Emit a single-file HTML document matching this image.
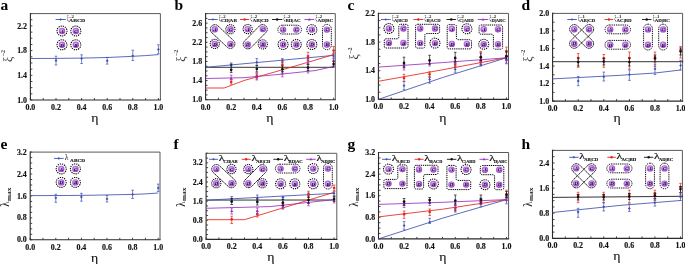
<!DOCTYPE html>
<html><head><meta charset="utf-8"><title>figure</title><style>html,body{margin:0;padding:0;background:#fff;width:685px;height:264px;overflow:hidden;font-family:"Liberation Serif",serif}svg{display:block;will-change:transform}</style></head><body>
<svg width="685" height="264" viewBox="0 0 685 264">
<defs><radialGradient id="pg" cx="0.45" cy="0.42" r="0.6"><stop offset="0" stop-color="#f2e0fa"/><stop offset="0.45" stop-color="#bc7ce4"/><stop offset="1" stop-color="#9436c6"/></radialGradient></defs>
<rect width="685" height="264" fill="#fff"/>
<g>
<path d="M30.4 100v-2M43.2 100v-2M56 100v-2M68.8 100v-2M81.6 100v-2M94.4 100v-2M107.2 100v-2M120 100v-2M132.8 100v-2M145.6 100v-2M158.4 100v-2M30.4 100h2M30.4 93.83h2M30.4 87.66h2M30.4 81.49h2M30.4 75.31h2M30.4 69.14h2M30.4 62.97h2M30.4 56.8h2M30.4 50.63h2M30.4 44.46h2M30.4 38.29h2M30.4 32.11h2M30.4 25.94h2M30.4 19.77h2M30.4 13.6h2" stroke="#333" stroke-width="0.9" fill="none"/>
<path d="M30.4 13.6H160.4V100" fill="none" stroke="#5a5a5a" stroke-width="1.0"/>
<path d="M30.4 13.6V100H160.4" fill="none" stroke="#2a2a2a" stroke-width="1.1" stroke-linecap="square"/>
<g font-family="'Liberation Serif', serif" font-weight="bold" font-size="7.9" text-anchor="middle" fill="#111" stroke="#111" stroke-width="0.15"><text x="30.4" y="110">0.0</text><text x="56" y="110">0.2</text><text x="81.6" y="110">0.4</text><text x="107.2" y="110">0.6</text><text x="132.8" y="110">0.8</text><text x="158.4" y="110">1.0</text></g>
<g font-family="'Liberation Serif', serif" font-weight="bold" font-size="7.9" text-anchor="end" fill="#111" stroke="#111" stroke-width="0.15"><text x="27" y="102.6">1.0</text><text x="27" y="77.91">1.4</text><text x="27" y="53.23">1.8</text><text x="27" y="28.54">2.2</text></g>
<text transform="translate(94.8 121.8) scale(1.15 1)" font-family="'Liberation Serif', serif" font-size="12" text-anchor="middle" fill="#111" stroke="#111" stroke-width="0.12">&#951;</text>
<text x="0.6" y="9.8" font-family="'Liberation Serif', serif" font-weight="bold" font-size="15.5" fill="#000">a</text>
<g transform="translate(11.7 62) rotate(-90)" font-family="'Liberation Serif', serif" fill="#3a3a3a"><text x="0" y="0" font-size="12">&#958;</text><text x="5.9" y="-6.8" font-size="6" font-weight="bold">&#8211;2</text></g>
<path d="M205.6 99.7v-2M218.4 99.7v-2M231.2 99.7v-2M244 99.7v-2M256.8 99.7v-2M269.6 99.7v-2M282.4 99.7v-2M295.2 99.7v-2M308 99.7v-2M320.8 99.7v-2M333.6 99.7v-2M205.6 99.7h2M205.6 94.92h2M205.6 90.13h2M205.6 85.35h2M205.6 80.57h2M205.6 75.78h2M205.6 71h2M205.6 66.22h2M205.6 61.43h2M205.6 56.65h2M205.6 51.87h2M205.6 47.08h2M205.6 42.3h2M205.6 37.52h2M205.6 32.73h2M205.6 27.95h2M205.6 23.17h2M205.6 18.38h2M205.6 13.6h2" stroke="#333" stroke-width="0.9" fill="none"/>
<path d="M205.6 13.6H335.3V99.7" fill="none" stroke="#5a5a5a" stroke-width="1.0"/>
<path d="M205.6 13.6V99.7H335.3" fill="none" stroke="#2a2a2a" stroke-width="1.1" stroke-linecap="square"/>
<g font-family="'Liberation Serif', serif" font-weight="bold" font-size="7.9" text-anchor="middle" fill="#111" stroke="#111" stroke-width="0.15"><text x="205.6" y="109.7">0.0</text><text x="231.2" y="109.7">0.2</text><text x="256.8" y="109.7">0.4</text><text x="282.4" y="109.7">0.6</text><text x="308" y="109.7">0.8</text><text x="333.6" y="109.7">1.0</text></g>
<g font-family="'Liberation Serif', serif" font-weight="bold" font-size="7.9" text-anchor="end" fill="#111" stroke="#111" stroke-width="0.15"><text x="202.2" y="102.3">1.0</text><text x="202.2" y="83.17">1.4</text><text x="202.2" y="64.03">1.8</text><text x="202.2" y="44.9">2.2</text><text x="202.2" y="25.77">2.6</text></g>
<text transform="translate(269.85 121.5) scale(1.15 1)" font-family="'Liberation Serif', serif" font-size="12" text-anchor="middle" fill="#111" stroke="#111" stroke-width="0.12">&#951;</text>
<text x="174.6" y="9.8" font-family="'Liberation Serif', serif" font-weight="bold" font-size="15.5" fill="#000">b</text>
<g transform="translate(185.1 61.7) rotate(-90)" font-family="'Liberation Serif', serif" fill="#3a3a3a"><text x="0" y="0" font-size="12">&#958;</text><text x="5.9" y="-6.8" font-size="6" font-weight="bold">&#8211;2</text></g>
<path d="M378.4 99.4v-2M391.2 99.4v-2M404 99.4v-2M416.8 99.4v-2M429.6 99.4v-2M442.4 99.4v-2M455.2 99.4v-2M468 99.4v-2M480.8 99.4v-2M493.6 99.4v-2M506.4 99.4v-2M378.4 99.4h2M378.4 92.23h2M378.4 85.07h2M378.4 77.9h2M378.4 70.73h2M378.4 63.57h2M378.4 56.4h2M378.4 49.23h2M378.4 42.07h2M378.4 34.9h2M378.4 27.73h2M378.4 20.57h2M378.4 13.4h2" stroke="#333" stroke-width="0.9" fill="none"/>
<path d="M378.4 13.4H508.5V99.4" fill="none" stroke="#5a5a5a" stroke-width="1.0"/>
<path d="M378.4 13.4V99.4H508.5" fill="none" stroke="#2a2a2a" stroke-width="1.1" stroke-linecap="square"/>
<g font-family="'Liberation Serif', serif" font-weight="bold" font-size="7.9" text-anchor="middle" fill="#111" stroke="#111" stroke-width="0.15"><text x="378.4" y="109.4">0.0</text><text x="404" y="109.4">0.2</text><text x="429.6" y="109.4">0.4</text><text x="455.2" y="109.4">0.6</text><text x="480.8" y="109.4">0.8</text><text x="506.4" y="109.4">1.0</text></g>
<g font-family="'Liberation Serif', serif" font-weight="bold" font-size="7.9" text-anchor="end" fill="#111" stroke="#111" stroke-width="0.15"><text x="375" y="102">1.0</text><text x="375" y="73.33">1.4</text><text x="375" y="44.67">1.8</text><text x="375" y="16">2.2</text></g>
<text transform="translate(442.85 121.8) scale(1.15 1)" font-family="'Liberation Serif', serif" font-size="12" text-anchor="middle" fill="#111" stroke="#111" stroke-width="0.12">&#951;</text>
<text x="347.6" y="9.8" font-family="'Liberation Serif', serif" font-weight="bold" font-size="15.5" fill="#000">c</text>
<g transform="translate(358.4 59.4) rotate(-90)" font-family="'Liberation Serif', serif" fill="#3a3a3a"><text x="0" y="0" font-size="12">&#958;</text><text x="5.9" y="-6.8" font-size="6" font-weight="bold">&#8211;2</text></g>
<path d="M552.6 101.1v-2M565.4 101.1v-2M578.2 101.1v-2M591 101.1v-2M603.8 101.1v-2M616.6 101.1v-2M629.4 101.1v-2M642.2 101.1v-2M655 101.1v-2M667.8 101.1v-2M680.6 101.1v-2M552.6 101.1h2M552.6 92.33h2M552.6 83.56h2M552.6 74.79h2M552.6 66.02h2M552.6 57.25h2M552.6 48.48h2M552.6 39.71h2M552.6 30.94h2M552.6 22.17h2M552.6 13.4h2" stroke="#333" stroke-width="0.9" fill="none"/>
<path d="M552.6 13.4H682.6V101.1" fill="none" stroke="#5a5a5a" stroke-width="1.0"/>
<path d="M552.6 13.4V101.1H682.6" fill="none" stroke="#2a2a2a" stroke-width="1.1" stroke-linecap="square"/>
<g font-family="'Liberation Serif', serif" font-weight="bold" font-size="7.9" text-anchor="middle" fill="#111" stroke="#111" stroke-width="0.15"><text x="552.6" y="111.1">0.0</text><text x="578.2" y="111.1">0.2</text><text x="603.8" y="111.1">0.4</text><text x="629.4" y="111.1">0.6</text><text x="655" y="111.1">0.8</text><text x="680.6" y="111.1">1.0</text></g>
<g font-family="'Liberation Serif', serif" font-weight="bold" font-size="7.9" text-anchor="end" fill="#111" stroke="#111" stroke-width="0.15"><text x="549.2" y="103.7">1.0</text><text x="549.2" y="86.16">1.2</text><text x="549.2" y="68.62">1.4</text><text x="549.2" y="51.08">1.6</text><text x="549.2" y="33.54">1.8</text><text x="549.2" y="16">2.0</text></g>
<text transform="translate(617 122) scale(1.15 1)" font-family="'Liberation Serif', serif" font-size="12" text-anchor="middle" fill="#111" stroke="#111" stroke-width="0.12">&#951;</text>
<text x="521.6" y="9.8" font-family="'Liberation Serif', serif" font-weight="bold" font-size="15.5" fill="#000">d</text>
<g transform="translate(532.1 61.7) rotate(-90)" font-family="'Liberation Serif', serif" fill="#3a3a3a"><text x="0" y="0" font-size="12">&#958;</text><text x="5.9" y="-6.8" font-size="6" font-weight="bold">&#8211;2</text></g>
<path d="M30.2 239.8v-2M43 239.8v-2M55.8 239.8v-2M68.6 239.8v-2M81.4 239.8v-2M94.2 239.8v-2M107 239.8v-2M119.8 239.8v-2M132.6 239.8v-2M145.4 239.8v-2M158.2 239.8v-2M30.2 239.8h2M30.2 234.32h2M30.2 228.84h2M30.2 223.36h2M30.2 217.88h2M30.2 212.39h2M30.2 206.91h2M30.2 201.43h2M30.2 195.95h2M30.2 190.47h2M30.2 184.99h2M30.2 179.51h2M30.2 174.02h2M30.2 168.54h2M30.2 163.06h2M30.2 157.58h2M30.2 152.1h2" stroke="#333" stroke-width="0.9" fill="none"/>
<path d="M30.2 152.1H160V239.8" fill="none" stroke="#5a5a5a" stroke-width="1.0"/>
<path d="M30.2 152.1V239.8H160" fill="none" stroke="#2a2a2a" stroke-width="1.1" stroke-linecap="square"/>
<g font-family="'Liberation Serif', serif" font-weight="bold" font-size="7.9" text-anchor="middle" fill="#111" stroke="#111" stroke-width="0.15"><text x="30.2" y="249.8">0.0</text><text x="55.8" y="249.8">0.2</text><text x="81.4" y="249.8">0.4</text><text x="107" y="249.8">0.6</text><text x="132.6" y="249.8">0.8</text><text x="158.2" y="249.8">1.0</text></g>
<g font-family="'Liberation Serif', serif" font-weight="bold" font-size="7.9" text-anchor="end" fill="#111" stroke="#111" stroke-width="0.15"><text x="26.8" y="242.4">0.0</text><text x="26.8" y="220.47">0.8</text><text x="26.8" y="198.55">1.6</text><text x="26.8" y="176.62">2.4</text><text x="26.8" y="154.7">3.2</text></g>
<text transform="translate(94.5 261.6) scale(1.15 1)" font-family="'Liberation Serif', serif" font-size="12" text-anchor="middle" fill="#111" stroke="#111" stroke-width="0.12">&#951;</text>
<text x="0.6" y="148.8" font-family="'Liberation Serif', serif" font-weight="bold" font-size="15.5" fill="#000">e</text>
<g transform="translate(9.3 206.85) rotate(-90)" font-family="'Liberation Serif', serif" fill="#111"><text transform="scale(0.83 1)" x="0" y="0" font-size="13">&#955;</text><text x="5.9" y="1.2" font-size="6.8" font-weight="bold" textLength="13.4" lengthAdjust="spacingAndGlyphs">max</text></g>
<path d="M206.1 239.4v-2M218.9 239.4v-2M231.7 239.4v-2M244.5 239.4v-2M257.3 239.4v-2M270.1 239.4v-2M282.9 239.4v-2M295.7 239.4v-2M308.5 239.4v-2M321.3 239.4v-2M334.1 239.4v-2M206.1 239.4h2M206.1 234.62h2M206.1 229.83h2M206.1 225.05h2M206.1 220.27h2M206.1 215.48h2M206.1 210.7h2M206.1 205.92h2M206.1 201.13h2M206.1 196.35h2M206.1 191.57h2M206.1 186.78h2M206.1 182h2M206.1 177.22h2M206.1 172.43h2M206.1 167.65h2M206.1 162.87h2M206.1 158.08h2M206.1 153.3h2" stroke="#333" stroke-width="0.9" fill="none"/>
<path d="M206.1 153.3H336.8V239.4" fill="none" stroke="#5a5a5a" stroke-width="1.0"/>
<path d="M206.1 153.3V239.4H336.8" fill="none" stroke="#2a2a2a" stroke-width="1.1" stroke-linecap="square"/>
<g font-family="'Liberation Serif', serif" font-weight="bold" font-size="7.9" text-anchor="middle" fill="#111" stroke="#111" stroke-width="0.15"><text x="206.1" y="249.4">0.0</text><text x="231.7" y="249.4">0.2</text><text x="257.3" y="249.4">0.4</text><text x="282.9" y="249.4">0.6</text><text x="308.5" y="249.4">0.8</text><text x="334.1" y="249.4">1.0</text></g>
<g font-family="'Liberation Serif', serif" font-weight="bold" font-size="7.9" text-anchor="end" fill="#111" stroke="#111" stroke-width="0.15"><text x="202.7" y="242">0.0</text><text x="202.7" y="222.87">0.8</text><text x="202.7" y="203.73">1.6</text><text x="202.7" y="184.6">2.4</text><text x="202.7" y="165.47">3.2</text></g>
<text transform="translate(270.85 261.2) scale(1.15 1)" font-family="'Liberation Serif', serif" font-size="12" text-anchor="middle" fill="#111" stroke="#111" stroke-width="0.12">&#951;</text>
<text x="173.6" y="148.8" font-family="'Liberation Serif', serif" font-weight="bold" font-size="15.5" fill="#000">f</text>
<g transform="translate(185.2 206.85) rotate(-90)" font-family="'Liberation Serif', serif" fill="#111"><text transform="scale(0.83 1)" x="0" y="0" font-size="13">&#955;</text><text x="5.9" y="1.2" font-size="6.8" font-weight="bold" textLength="13.4" lengthAdjust="spacingAndGlyphs">max</text></g>
<path d="M378.5 238.9v-2M391.3 238.9v-2M404.1 238.9v-2M416.9 238.9v-2M429.7 238.9v-2M442.5 238.9v-2M455.3 238.9v-2M468.1 238.9v-2M480.9 238.9v-2M493.7 238.9v-2M506.5 238.9v-2M378.5 238.9h2M378.5 233.5h2M378.5 228.1h2M378.5 222.7h2M378.5 217.3h2M378.5 211.9h2M378.5 206.5h2M378.5 201.1h2M378.5 195.7h2M378.5 190.3h2M378.5 184.9h2M378.5 179.5h2M378.5 174.1h2M378.5 168.7h2M378.5 163.3h2M378.5 157.9h2M378.5 152.5h2" stroke="#333" stroke-width="0.9" fill="none"/>
<path d="M378.5 152.5H508.6V238.9" fill="none" stroke="#5a5a5a" stroke-width="1.0"/>
<path d="M378.5 152.5V238.9H508.6" fill="none" stroke="#2a2a2a" stroke-width="1.1" stroke-linecap="square"/>
<g font-family="'Liberation Serif', serif" font-weight="bold" font-size="7.9" text-anchor="middle" fill="#111" stroke="#111" stroke-width="0.15"><text x="378.5" y="248.9">0.0</text><text x="404.1" y="248.9">0.2</text><text x="429.7" y="248.9">0.4</text><text x="455.3" y="248.9">0.6</text><text x="480.9" y="248.9">0.8</text><text x="506.5" y="248.9">1.0</text></g>
<g font-family="'Liberation Serif', serif" font-weight="bold" font-size="7.9" text-anchor="end" fill="#111" stroke="#111" stroke-width="0.15"><text x="375.1" y="241.5">0.0</text><text x="375.1" y="219.9">0.8</text><text x="375.1" y="198.3">1.6</text><text x="375.1" y="176.7">2.4</text><text x="375.1" y="155.1">3.2</text></g>
<text transform="translate(442.95 260.7) scale(1.15 1)" font-family="'Liberation Serif', serif" font-size="12" text-anchor="middle" fill="#111" stroke="#111" stroke-width="0.12">&#951;</text>
<text x="347.6" y="148.8" font-family="'Liberation Serif', serif" font-weight="bold" font-size="15.5" fill="#000">g</text>
<g transform="translate(357.6 206.85) rotate(-90)" font-family="'Liberation Serif', serif" fill="#111"><text transform="scale(0.83 1)" x="0" y="0" font-size="13">&#955;</text><text x="5.9" y="1.2" font-size="6.8" font-weight="bold" textLength="13.4" lengthAdjust="spacingAndGlyphs">max</text></g>
<path d="M552.5 238.4v-2M565.3 238.4v-2M578.1 238.4v-2M590.9 238.4v-2M603.7 238.4v-2M616.5 238.4v-2M629.3 238.4v-2M642.1 238.4v-2M654.9 238.4v-2M667.7 238.4v-2M680.5 238.4v-2M552.5 238.4h2M552.5 232.11h2M552.5 225.83h2M552.5 219.54h2M552.5 213.26h2M552.5 206.97h2M552.5 200.69h2M552.5 194.4h2M552.5 188.11h2M552.5 181.83h2M552.5 175.54h2M552.5 169.26h2M552.5 162.97h2M552.5 156.69h2M552.5 150.4h2" stroke="#333" stroke-width="0.9" fill="none"/>
<path d="M552.5 150.4H682.4V238.4" fill="none" stroke="#5a5a5a" stroke-width="1.0"/>
<path d="M552.5 150.4V238.4H682.4" fill="none" stroke="#2a2a2a" stroke-width="1.1" stroke-linecap="square"/>
<g font-family="'Liberation Serif', serif" font-weight="bold" font-size="7.9" text-anchor="middle" fill="#111" stroke="#111" stroke-width="0.15"><text x="552.5" y="248.4">0.0</text><text x="578.1" y="248.4">0.2</text><text x="603.7" y="248.4">0.4</text><text x="629.3" y="248.4">0.6</text><text x="654.9" y="248.4">0.8</text><text x="680.5" y="248.4">1.0</text></g>
<g font-family="'Liberation Serif', serif" font-weight="bold" font-size="7.9" text-anchor="end" fill="#111" stroke="#111" stroke-width="0.15"><text x="549.1" y="241">0.0</text><text x="549.1" y="215.86">0.8</text><text x="549.1" y="190.71">1.6</text><text x="549.1" y="165.57">2.4</text></g>
<text transform="translate(616.85 260.2) scale(1.15 1)" font-family="'Liberation Serif', serif" font-size="12" text-anchor="middle" fill="#111" stroke="#111" stroke-width="0.12">&#951;</text>
<text x="521.6" y="148.8" font-family="'Liberation Serif', serif" font-weight="bold" font-size="15.5" fill="#000">h</text>
<g transform="translate(531.6 206.85) rotate(-90)" font-family="'Liberation Serif', serif" fill="#111"><text transform="scale(0.83 1)" x="0" y="0" font-size="13">&#955;</text><text x="5.9" y="1.2" font-size="6.8" font-weight="bold" textLength="13.4" lengthAdjust="spacingAndGlyphs">max</text></g>
<path d="M55.6 19.5H65.8" stroke="#4050b0" stroke-width="0.9"/>
<path d="M60.7 18.2l1.3 1.3l-1.3 1.3l-1.3 -1.3z" fill="#4050b0"/>
<g font-family="'Liberation Serif', serif" fill="#1a1a1a"><text transform="translate(67 21.1) scale(0.5 1)" font-size="7.6">&#958;</text><text x="69" y="17.8" font-size="4.6" font-weight="bold" textLength="4.8" lengthAdjust="spacingAndGlyphs">&#8211;2</text><text x="69" y="22" font-size="4.8" font-weight="bold" stroke="#1a1a1a" stroke-width="0.12" textLength="16.2" lengthAdjust="spacingAndGlyphs">ABCD</text></g>
<circle cx="62" cy="31" r="5" fill="none" stroke="#000" stroke-width="1.05" pathLength="28" stroke-dasharray="1.15 0.85" stroke-dashoffset="0.3"/>
<circle cx="75.8" cy="31" r="5" fill="none" stroke="#000" stroke-width="1.05" pathLength="28" stroke-dasharray="1.15 0.85" stroke-dashoffset="0.3"/>
<circle cx="62" cy="44.8" r="5" fill="none" stroke="#000" stroke-width="1.05" pathLength="28" stroke-dasharray="1.15 0.85" stroke-dashoffset="0.3"/>
<circle cx="75.8" cy="44.8" r="5" fill="none" stroke="#000" stroke-width="1.05" pathLength="28" stroke-dasharray="1.15 0.85" stroke-dashoffset="0.3"/>
<circle cx="62" cy="31" r="3.2" fill="url(#pg)"/>
<text x="62.1" y="32.7" font-family="'Liberation Serif', serif" font-style="italic" font-weight="bold" font-size="4.8" text-anchor="middle" fill="#000">A</text>
<circle cx="75.8" cy="31" r="3.2" fill="url(#pg)"/>
<text x="75.9" y="32.7" font-family="'Liberation Serif', serif" font-style="italic" font-weight="bold" font-size="4.8" text-anchor="middle" fill="#000">C</text>
<circle cx="62" cy="44.8" r="3.2" fill="url(#pg)"/>
<text x="62.1" y="46.5" font-family="'Liberation Serif', serif" font-style="italic" font-weight="bold" font-size="4.8" text-anchor="middle" fill="#000">D</text>
<circle cx="75.8" cy="44.8" r="3.2" fill="url(#pg)"/>
<text x="75.9" y="46.5" font-family="'Liberation Serif', serif" font-style="italic" font-weight="bold" font-size="4.8" text-anchor="middle" fill="#000">B</text>
<polyline points="30.4,58.5 56,58.4 81.6,58.1 107.2,57.5 132.8,56.3 145.6,55.6 158.4,54.6" fill="none" stroke="#4050b0" stroke-width="0.85" stroke-linejoin="round"/>
<path d="M56 56.2V65M54.7 56.2h2.6M54.7 65h2.6" stroke="#4050b0" stroke-width="0.7" fill="none"/>
<path d="M56 59.1l1.4 1.4l-1.4 1.4l-1.4 -1.4z" fill="#4050b0"/>
<path d="M81.6 54.8V63.5M80.3 54.8h2.6M80.3 63.5h2.6" stroke="#4050b0" stroke-width="0.7" fill="none"/>
<path d="M81.6 57.2l1.4 1.4l-1.4 1.4l-1.4 -1.4z" fill="#4050b0"/>
<path d="M107.2 57.4V64.1M105.9 57.4h2.6M105.9 64.1h2.6" stroke="#4050b0" stroke-width="0.7" fill="none"/>
<path d="M107.2 59.4l1.4 1.4l-1.4 1.4l-1.4 -1.4z" fill="#4050b0"/>
<path d="M132.8 50.2V60.5M131.5 50.2h2.6M131.5 60.5h2.6" stroke="#4050b0" stroke-width="0.7" fill="none"/>
<path d="M132.8 54.4l1.4 1.4l-1.4 1.4l-1.4 -1.4z" fill="#4050b0"/>
<path d="M158.4 44.8V53.9M157.1 44.8h2.6M157.1 53.9h2.6" stroke="#4050b0" stroke-width="0.7" fill="none"/>
<path d="M158.4 48l1.4 1.4l-1.4 1.4l-1.4 -1.4z" fill="#4050b0"/>
<path d="M208.1 19.5H217.7" stroke="#4050b0" stroke-width="0.9"/>
<path d="M212.9 18.2l1.3 1.3l-1.3 1.3l-1.3 -1.3z" fill="#4050b0"/>
<g font-family="'Liberation Serif', serif" fill="#1a1a1a"><text transform="translate(218.9 21.1) scale(0.5 1)" font-size="7.6">&#958;</text><text x="220.9" y="17.8" font-size="4.6" font-weight="bold" textLength="4.8" lengthAdjust="spacingAndGlyphs">&#8211;2</text><text x="220.9" y="22" font-size="4.8" font-weight="bold" stroke="#1a1a1a" stroke-width="0.12" textLength="16" lengthAdjust="spacingAndGlyphs">CD|AB</text></g>
<path d="M240 19.5H249.2" stroke="#e5261c" stroke-width="0.9"/>
<circle cx="244.6" cy="19.5" r="1.23" fill="#e5261c"/>
<g font-family="'Liberation Serif', serif" fill="#1a1a1a"><text transform="translate(250.4 21.1) scale(0.5 1)" font-size="7.6">&#958;</text><text x="252.4" y="17.8" font-size="4.6" font-weight="bold" textLength="4.8" lengthAdjust="spacingAndGlyphs">&#8211;2</text><text x="252.4" y="22" font-size="4.8" font-weight="bold" stroke="#1a1a1a" stroke-width="0.12" textLength="16.2" lengthAdjust="spacingAndGlyphs">AB|CD</text></g>
<path d="M272 19.5H282.3" stroke="#111111" stroke-width="0.9"/>
<circle cx="277.15" cy="19.5" r="1.23" fill="#111111"/>
<g font-family="'Liberation Serif', serif" fill="#1a1a1a"><text transform="translate(283.5 21.1) scale(0.5 1)" font-size="7.6">&#958;</text><text x="285.5" y="17.8" font-size="4.6" font-weight="bold" textLength="4.8" lengthAdjust="spacingAndGlyphs">&#8211;2</text><text x="285.5" y="22" font-size="4.8" font-weight="bold" stroke="#1a1a1a" stroke-width="0.12" textLength="15.1" lengthAdjust="spacingAndGlyphs">BD|AC</text></g>
<path d="M304.5 19.5H314.2" stroke="#9a30c0" stroke-width="0.9"/>
<path d="M309.35 18.07l1.43 2.47h-2.86z" fill="#9a30c0"/>
<g font-family="'Liberation Serif', serif" fill="#1a1a1a"><text transform="translate(315.4 21.1) scale(0.5 1)" font-size="7.6">&#958;</text><text x="317.4" y="17.8" font-size="4.6" font-weight="bold" textLength="4.8" lengthAdjust="spacingAndGlyphs">&#8211;2</text><text x="317.4" y="22" font-size="4.8" font-weight="bold" stroke="#1a1a1a" stroke-width="0.12" textLength="15.9" lengthAdjust="spacingAndGlyphs">AD|BC</text></g>
<path d="M211.65 32.55 L227.25 47.25 A4.6 4.6 0 0 0 233.55 40.55 L217.95 25.85 A4.6 4.6 0 0 0 211.65 32.55 Z" fill="none" stroke="#000" stroke-width="0.9" stroke-dasharray="1.8 0.5"/>
<circle cx="230.4" cy="29.2" r="4.6" fill="none" stroke="#000" stroke-width="1.05" pathLength="28" stroke-dasharray="1.15 0.85" stroke-dashoffset="0.3"/>
<circle cx="214.8" cy="43.9" r="4.6" fill="none" stroke="#000" stroke-width="1.05" pathLength="28" stroke-dasharray="1.15 0.85" stroke-dashoffset="0.3"/>
<circle cx="214.8" cy="29.2" r="3.2" fill="url(#pg)"/>
<text x="214.9" y="30.9" font-family="'Liberation Serif', serif" font-style="italic" font-weight="bold" font-size="4.8" text-anchor="middle" fill="#000">A</text>
<circle cx="230.4" cy="29.2" r="3.2" fill="url(#pg)"/>
<text x="230.5" y="30.9" font-family="'Liberation Serif', serif" font-style="italic" font-weight="bold" font-size="4.8" text-anchor="middle" fill="#000">C</text>
<circle cx="214.8" cy="43.9" r="3.2" fill="url(#pg)"/>
<text x="214.9" y="45.6" font-family="'Liberation Serif', serif" font-style="italic" font-weight="bold" font-size="4.8" text-anchor="middle" fill="#000">D</text>
<circle cx="230.4" cy="43.9" r="3.2" fill="url(#pg)"/>
<text x="230.5" y="45.6" font-family="'Liberation Serif', serif" font-style="italic" font-weight="bold" font-size="4.8" text-anchor="middle" fill="#000">B</text>
<path d="M259.53 25.87 L244.43 41.17 A4.6 4.6 0 0 0 250.97 47.63 L266.07 32.33 A4.6 4.6 0 0 0 259.53 25.87 Z" fill="none" stroke="#000" stroke-width="0.9" stroke-dasharray="1.8 0.5"/>
<circle cx="247.7" cy="29.1" r="4.6" fill="none" stroke="#000" stroke-width="1.05" pathLength="28" stroke-dasharray="1.15 0.85" stroke-dashoffset="0.3"/>
<circle cx="262.8" cy="44.4" r="4.6" fill="none" stroke="#000" stroke-width="1.05" pathLength="28" stroke-dasharray="1.15 0.85" stroke-dashoffset="0.3"/>
<circle cx="247.7" cy="29.1" r="3.2" fill="url(#pg)"/>
<text x="247.8" y="30.8" font-family="'Liberation Serif', serif" font-style="italic" font-weight="bold" font-size="4.8" text-anchor="middle" fill="#000">A</text>
<circle cx="262.8" cy="29.1" r="3.2" fill="url(#pg)"/>
<text x="262.9" y="30.8" font-family="'Liberation Serif', serif" font-style="italic" font-weight="bold" font-size="4.8" text-anchor="middle" fill="#000">C</text>
<circle cx="247.7" cy="44.4" r="3.2" fill="url(#pg)"/>
<text x="247.8" y="46.1" font-family="'Liberation Serif', serif" font-style="italic" font-weight="bold" font-size="4.8" text-anchor="middle" fill="#000">D</text>
<circle cx="262.8" cy="44.4" r="3.2" fill="url(#pg)"/>
<text x="262.9" y="46.1" font-family="'Liberation Serif', serif" font-style="italic" font-weight="bold" font-size="4.8" text-anchor="middle" fill="#000">B</text>
<rect x="277.9" y="25.2" width="23.6" height="8.8" rx="4.4" fill="none" stroke="#000" stroke-width="0.95" stroke-dasharray="1.3 0.9"/>
<circle cx="283.1" cy="44.5" r="5" fill="none" stroke="#000" stroke-width="1.05" pathLength="28" stroke-dasharray="1.15 0.85" stroke-dashoffset="0.3"/>
<circle cx="296.3" cy="44.5" r="5" fill="none" stroke="#000" stroke-width="1.05" pathLength="28" stroke-dasharray="1.15 0.85" stroke-dashoffset="0.3"/>
<circle cx="283.1" cy="29.6" r="3.2" fill="url(#pg)"/>
<text x="283.2" y="31.3" font-family="'Liberation Serif', serif" font-style="italic" font-weight="bold" font-size="4.8" text-anchor="middle" fill="#000">A</text>
<circle cx="296.3" cy="29.6" r="3.2" fill="url(#pg)"/>
<text x="296.4" y="31.3" font-family="'Liberation Serif', serif" font-style="italic" font-weight="bold" font-size="4.8" text-anchor="middle" fill="#000">C</text>
<circle cx="283.1" cy="44.5" r="3.2" fill="url(#pg)"/>
<text x="283.2" y="46.2" font-family="'Liberation Serif', serif" font-style="italic" font-weight="bold" font-size="4.8" text-anchor="middle" fill="#000">D</text>
<circle cx="296.3" cy="44.5" r="3.2" fill="url(#pg)"/>
<text x="296.4" y="46.2" font-family="'Liberation Serif', serif" font-style="italic" font-weight="bold" font-size="4.8" text-anchor="middle" fill="#000">B</text>
<rect x="322.5" y="24.4" width="8.8" height="25.3" rx="4.4" fill="none" stroke="#000" stroke-width="0.95" stroke-dasharray="1.3 0.9"/>
<circle cx="311.8" cy="29.6" r="5" fill="none" stroke="#000" stroke-width="1.05" pathLength="28" stroke-dasharray="1.15 0.85" stroke-dashoffset="0.3"/>
<circle cx="311.8" cy="44.5" r="5" fill="none" stroke="#000" stroke-width="1.05" pathLength="28" stroke-dasharray="1.15 0.85" stroke-dashoffset="0.3"/>
<circle cx="311.8" cy="29.6" r="3.2" fill="url(#pg)"/>
<text x="311.9" y="31.3" font-family="'Liberation Serif', serif" font-style="italic" font-weight="bold" font-size="4.8" text-anchor="middle" fill="#000">A</text>
<circle cx="326.9" cy="29.6" r="3.2" fill="url(#pg)"/>
<text x="327" y="31.3" font-family="'Liberation Serif', serif" font-style="italic" font-weight="bold" font-size="4.8" text-anchor="middle" fill="#000">C</text>
<circle cx="311.8" cy="44.5" r="3.2" fill="url(#pg)"/>
<text x="311.9" y="46.2" font-family="'Liberation Serif', serif" font-style="italic" font-weight="bold" font-size="4.8" text-anchor="middle" fill="#000">D</text>
<circle cx="326.9" cy="44.5" r="3.2" fill="url(#pg)"/>
<text x="327" y="46.2" font-family="'Liberation Serif', serif" font-style="italic" font-weight="bold" font-size="4.8" text-anchor="middle" fill="#000">B</text>
<polyline points="205.6,67.3 333.6,67.3" fill="none" stroke="#111111" stroke-width="0.85" stroke-linejoin="round"/>
<polyline points="205.6,67.3 333.6,55.4" fill="none" stroke="#4050b0" stroke-width="0.85" stroke-linejoin="round"/>
<polyline points="205.6,78.5 244,77.7 274.72,74.8 315.04,70.6 333.6,66.5" fill="none" stroke="#9a30c0" stroke-width="0.85" stroke-linejoin="round"/>
<polyline points="205.6,88 224.16,88 244,80.5 274.72,72 315.04,60.2 333.6,54.5" fill="none" stroke="#e5261c" stroke-width="0.85" stroke-linejoin="round"/>
<path d="M231.2 63V67.6M229.9 63h2.6M229.9 67.6h2.6" stroke="#4050b0" stroke-width="0.7" fill="none"/>
<path d="M231.2 63.9l1.4 1.4l-1.4 1.4l-1.4 -1.4z" fill="#4050b0"/>
<path d="M256.8 58.5V65.2M255.5 58.5h2.6M255.5 65.2h2.6" stroke="#4050b0" stroke-width="0.7" fill="none"/>
<path d="M256.8 60.9l1.4 1.4l-1.4 1.4l-1.4 -1.4z" fill="#4050b0"/>
<path d="M282.4 58.6V62.5M281.1 58.6h2.6M281.1 62.5h2.6" stroke="#4050b0" stroke-width="0.7" fill="none"/>
<path d="M282.4 58.8l1.4 1.4l-1.4 1.4l-1.4 -1.4z" fill="#4050b0"/>
<path d="M308 55.5V61M306.7 55.5h2.6M306.7 61h2.6" stroke="#4050b0" stroke-width="0.7" fill="none"/>
<path d="M308 56.9l1.4 1.4l-1.4 1.4l-1.4 -1.4z" fill="#4050b0"/>
<path d="M333.6 53V59M332.3 53h2.6M332.3 59h2.6" stroke="#4050b0" stroke-width="0.7" fill="none"/>
<path d="M333.6 54.6l1.4 1.4l-1.4 1.4l-1.4 -1.4z" fill="#4050b0"/>
<path d="M231.2 79.7V84.2M229.9 79.7h2.6M229.9 84.2h2.6" stroke="#e5261c" stroke-width="0.7" fill="none"/>
<circle cx="231.2" cy="82" r="1.33" fill="#e5261c"/>
<path d="M256.8 73V79M255.5 73h2.6M255.5 79h2.6" stroke="#e5261c" stroke-width="0.7" fill="none"/>
<circle cx="256.8" cy="76.2" r="1.33" fill="#e5261c"/>
<path d="M282.4 61.5V67.5M281.1 61.5h2.6M281.1 67.5h2.6" stroke="#e5261c" stroke-width="0.7" fill="none"/>
<circle cx="282.4" cy="64.7" r="1.33" fill="#e5261c"/>
<path d="M308 52.3V61M306.7 52.3h2.6M306.7 61h2.6" stroke="#e5261c" stroke-width="0.7" fill="none"/>
<circle cx="308" cy="57.1" r="1.33" fill="#e5261c"/>
<path d="M333.6 46.5V54M332.3 46.5h2.6M332.3 54h2.6" stroke="#e5261c" stroke-width="0.7" fill="none"/>
<circle cx="333.6" cy="50.5" r="1.33" fill="#e5261c"/>
<path d="M231.2 75.2V79.7M229.9 75.2h2.6M229.9 79.7h2.6" stroke="#9a30c0" stroke-width="0.7" fill="none"/>
<path d="M231.2 76.66l1.54 2.66h-3.08z" fill="#9a30c0"/>
<path d="M256.8 74V80M255.5 74h2.6M255.5 80h2.6" stroke="#9a30c0" stroke-width="0.7" fill="none"/>
<path d="M256.8 75.46l1.54 2.66h-3.08z" fill="#9a30c0"/>
<path d="M282.4 71.5V76.8M281.1 71.5h2.6M281.1 76.8h2.6" stroke="#9a30c0" stroke-width="0.7" fill="none"/>
<path d="M282.4 71.96l1.54 2.66h-3.08z" fill="#9a30c0"/>
<path d="M308 60V73M306.7 60h2.6M306.7 73h2.6" stroke="#9a30c0" stroke-width="0.7" fill="none"/>
<path d="M308 61.66l1.54 2.66h-3.08z" fill="#9a30c0"/>
<path d="M333.6 58V66M332.3 58h2.6M332.3 66h2.6" stroke="#9a30c0" stroke-width="0.7" fill="none"/>
<path d="M333.6 59.46l1.54 2.66h-3.08z" fill="#9a30c0"/>
<path d="M231.2 64.2V72.4M229.9 64.2h2.6M229.9 72.4h2.6" stroke="#111111" stroke-width="0.7" fill="none"/>
<circle cx="231.2" cy="69.8" r="1.33" fill="#111111"/>
<path d="M256.8 65.5V72M255.5 65.5h2.6M255.5 72h2.6" stroke="#111111" stroke-width="0.7" fill="none"/>
<circle cx="256.8" cy="69" r="1.33" fill="#111111"/>
<path d="M282.4 66V72M281.1 66h2.6M281.1 72h2.6" stroke="#111111" stroke-width="0.7" fill="none"/>
<circle cx="282.4" cy="69.2" r="1.33" fill="#111111"/>
<path d="M308 64.5V70.5M306.7 64.5h2.6M306.7 70.5h2.6" stroke="#111111" stroke-width="0.7" fill="none"/>
<circle cx="308" cy="67.7" r="1.33" fill="#111111"/>
<path d="M333.6 61V67M332.3 61h2.6M332.3 67h2.6" stroke="#111111" stroke-width="0.7" fill="none"/>
<circle cx="333.6" cy="64" r="1.33" fill="#111111"/>
<path d="M380.9 19.5H390.7" stroke="#4050b0" stroke-width="0.9"/>
<path d="M385.8 18.2l1.3 1.3l-1.3 1.3l-1.3 -1.3z" fill="#4050b0"/>
<g font-family="'Liberation Serif', serif" fill="#1a1a1a"><text transform="translate(391.9 21.1) scale(0.5 1)" font-size="7.6">&#958;</text><text x="393.9" y="17.8" font-size="4.6" font-weight="bold" textLength="4.8" lengthAdjust="spacingAndGlyphs">&#8211;2</text><text x="393.9" y="22" font-size="4.8" font-weight="bold" stroke="#1a1a1a" stroke-width="0.12" textLength="13.9" lengthAdjust="spacingAndGlyphs">A|BCD</text></g>
<path d="M413.3 19.5H423.3" stroke="#e5261c" stroke-width="0.9"/>
<circle cx="418.3" cy="19.5" r="1.23" fill="#e5261c"/>
<g font-family="'Liberation Serif', serif" fill="#1a1a1a"><text transform="translate(424.5 21.1) scale(0.5 1)" font-size="7.6">&#958;</text><text x="426.5" y="17.8" font-size="4.6" font-weight="bold" textLength="4.8" lengthAdjust="spacingAndGlyphs">&#8211;2</text><text x="426.5" y="22" font-size="4.8" font-weight="bold" stroke="#1a1a1a" stroke-width="0.12" textLength="14.1" lengthAdjust="spacingAndGlyphs">B|ACD</text></g>
<path d="M446.5 19.5H456" stroke="#111111" stroke-width="0.9"/>
<circle cx="451.25" cy="19.5" r="1.23" fill="#111111"/>
<g font-family="'Liberation Serif', serif" fill="#1a1a1a"><text transform="translate(457.2 21.1) scale(0.5 1)" font-size="7.6">&#958;</text><text x="459.2" y="17.8" font-size="4.6" font-weight="bold" textLength="4.8" lengthAdjust="spacingAndGlyphs">&#8211;2</text><text x="459.2" y="22" font-size="4.8" font-weight="bold" stroke="#1a1a1a" stroke-width="0.12" textLength="14.4" lengthAdjust="spacingAndGlyphs">C|ABD</text></g>
<path d="M477.8 19.5H488.2" stroke="#9a30c0" stroke-width="0.9"/>
<path d="M483 18.07l1.43 2.47h-2.86z" fill="#9a30c0"/>
<g font-family="'Liberation Serif', serif" fill="#1a1a1a"><text transform="translate(489.4 21.1) scale(0.5 1)" font-size="7.6">&#958;</text><text x="491.4" y="17.8" font-size="4.6" font-weight="bold" textLength="4.8" lengthAdjust="spacingAndGlyphs">&#8211;2</text><text x="491.4" y="22" font-size="4.8" font-weight="bold" stroke="#1a1a1a" stroke-width="0.12" textLength="14.1" lengthAdjust="spacingAndGlyphs">D|ABC</text></g>
<path d="M400.8 24.3L406 24.3Q408 24.3 408 26.3L408 46Q408 48 406 48L386.3 48Q384.3 48 384.3 46L384.3 40.8Q384.3 38.8 386.3 38.8L396.8 38.8Q398.8 38.8 398.8 36.8L398.8 26.3Q398.8 24.3 400.8 24.3" fill="none" stroke="#000" stroke-width="1.0" stroke-dasharray="1.3 0.85"/>
<circle cx="388.9" cy="28.5" r="5" fill="none" stroke="#000" stroke-width="1.05" pathLength="28" stroke-dasharray="1.15 0.85" stroke-dashoffset="0.3"/>
<circle cx="388.9" cy="28.5" r="3.2" fill="url(#pg)"/>
<text x="389" y="30.2" font-family="'Liberation Serif', serif" font-style="italic" font-weight="bold" font-size="4.8" text-anchor="middle" fill="#000">A</text>
<circle cx="403.4" cy="28.5" r="3.2" fill="url(#pg)"/>
<text x="403.5" y="30.2" font-family="'Liberation Serif', serif" font-style="italic" font-weight="bold" font-size="4.8" text-anchor="middle" fill="#000">C</text>
<circle cx="388.9" cy="43" r="3.2" fill="url(#pg)"/>
<text x="389" y="44.7" font-family="'Liberation Serif', serif" font-style="italic" font-weight="bold" font-size="4.8" text-anchor="middle" fill="#000">D</text>
<circle cx="403.4" cy="43" r="3.2" fill="url(#pg)"/>
<text x="403.5" y="44.7" font-family="'Liberation Serif', serif" font-style="italic" font-weight="bold" font-size="4.8" text-anchor="middle" fill="#000">B</text>
<path d="M417.6 24.3L437.6 24.3Q439.6 24.3 439.6 26.3L439.6 31.5Q439.6 33.5 437.6 33.5L426.8 33.5Q424.8 33.5 424.8 35.5L424.8 46.1Q424.8 48.1 422.8 48.1L417.6 48.1Q415.6 48.1 415.6 46.1L415.6 26.3Q415.6 24.3 417.6 24.3" fill="none" stroke="#000" stroke-width="1.0" stroke-dasharray="1.3 0.85"/>
<circle cx="435" cy="43.1" r="5" fill="none" stroke="#000" stroke-width="1.05" pathLength="28" stroke-dasharray="1.15 0.85" stroke-dashoffset="0.3"/>
<circle cx="420.2" cy="28.5" r="3.2" fill="url(#pg)"/>
<text x="420.3" y="30.2" font-family="'Liberation Serif', serif" font-style="italic" font-weight="bold" font-size="4.8" text-anchor="middle" fill="#000">A</text>
<circle cx="435" cy="28.5" r="3.2" fill="url(#pg)"/>
<text x="435.1" y="30.2" font-family="'Liberation Serif', serif" font-style="italic" font-weight="bold" font-size="4.8" text-anchor="middle" fill="#000">C</text>
<circle cx="420.2" cy="43.1" r="3.2" fill="url(#pg)"/>
<text x="420.3" y="44.8" font-family="'Liberation Serif', serif" font-style="italic" font-weight="bold" font-size="4.8" text-anchor="middle" fill="#000">D</text>
<circle cx="435" cy="43.1" r="3.2" fill="url(#pg)"/>
<text x="435.1" y="44.8" font-family="'Liberation Serif', serif" font-style="italic" font-weight="bold" font-size="4.8" text-anchor="middle" fill="#000">B</text>
<path d="M449.2 24.6L454.4 24.6Q456.4 24.6 456.4 26.6L456.4 37.7Q456.4 39.7 458.4 39.7L469.5 39.7Q471.5 39.7 471.5 41.7L471.5 46.9Q471.5 48.9 469.5 48.9L449.2 48.9Q447.2 48.9 447.2 46.9L447.2 26.6Q447.2 24.6 449.2 24.6" fill="none" stroke="#000" stroke-width="1.0" stroke-dasharray="1.3 0.85"/>
<circle cx="466.9" cy="28.8" r="5" fill="none" stroke="#000" stroke-width="1.05" pathLength="28" stroke-dasharray="1.15 0.85" stroke-dashoffset="0.3"/>
<circle cx="451.8" cy="28.8" r="3.2" fill="url(#pg)"/>
<text x="451.9" y="30.5" font-family="'Liberation Serif', serif" font-style="italic" font-weight="bold" font-size="4.8" text-anchor="middle" fill="#000">A</text>
<circle cx="466.9" cy="28.8" r="3.2" fill="url(#pg)"/>
<text x="467" y="30.5" font-family="'Liberation Serif', serif" font-style="italic" font-weight="bold" font-size="4.8" text-anchor="middle" fill="#000">C</text>
<circle cx="451.8" cy="43.9" r="3.2" fill="url(#pg)"/>
<text x="451.9" y="45.6" font-family="'Liberation Serif', serif" font-style="italic" font-weight="bold" font-size="4.8" text-anchor="middle" fill="#000">D</text>
<circle cx="466.9" cy="43.9" r="3.2" fill="url(#pg)"/>
<text x="467" y="45.6" font-family="'Liberation Serif', serif" font-style="italic" font-weight="bold" font-size="4.8" text-anchor="middle" fill="#000">B</text>
<path d="M481.1 25L500.6 25Q502.6 25 502.6 27L502.6 47.2Q502.6 49.2 500.6 49.2L495.4 49.2Q493.4 49.2 493.4 47.2L493.4 36.2Q493.4 34.2 491.4 34.2L481.1 34.2Q479.1 34.2 479.1 32.2L479.1 27Q479.1 25 481.1 25" fill="none" stroke="#000" stroke-width="1.0" stroke-dasharray="1.3 0.85"/>
<circle cx="483.7" cy="44.2" r="5" fill="none" stroke="#000" stroke-width="1.05" pathLength="28" stroke-dasharray="1.15 0.85" stroke-dashoffset="0.3"/>
<circle cx="483.7" cy="29.2" r="3.2" fill="url(#pg)"/>
<text x="483.8" y="30.9" font-family="'Liberation Serif', serif" font-style="italic" font-weight="bold" font-size="4.8" text-anchor="middle" fill="#000">A</text>
<circle cx="498" cy="29.2" r="3.2" fill="url(#pg)"/>
<text x="498.1" y="30.9" font-family="'Liberation Serif', serif" font-style="italic" font-weight="bold" font-size="4.8" text-anchor="middle" fill="#000">C</text>
<circle cx="483.7" cy="44.2" r="3.2" fill="url(#pg)"/>
<text x="483.8" y="45.9" font-family="'Liberation Serif', serif" font-style="italic" font-weight="bold" font-size="4.8" text-anchor="middle" fill="#000">D</text>
<circle cx="498" cy="44.2" r="3.2" fill="url(#pg)"/>
<text x="498.1" y="45.9" font-family="'Liberation Serif', serif" font-style="italic" font-weight="bold" font-size="4.8" text-anchor="middle" fill="#000">B</text>
<polyline points="378.4,67.1 442.4,62.6 506.4,57.8" fill="none" stroke="#9a30c0" stroke-width="0.85" stroke-linejoin="round"/>
<polyline points="378.4,81.3 442.4,69.8 506.4,57.8" fill="none" stroke="#e5261c" stroke-width="0.85" stroke-linejoin="round"/>
<polyline points="378.4,99.4 442.4,77.6 506.4,57.8" fill="none" stroke="#4050b0" stroke-width="0.85" stroke-linejoin="round"/>
<path d="M404 81.5V89.8M402.7 81.5h2.6M402.7 89.8h2.6" stroke="#4050b0" stroke-width="0.7" fill="none"/>
<path d="M404 84.3l1.4 1.4l-1.4 1.4l-1.4 -1.4z" fill="#4050b0"/>
<path d="M429.6 76.6V83.2M428.3 76.6h2.6M428.3 83.2h2.6" stroke="#4050b0" stroke-width="0.7" fill="none"/>
<path d="M429.6 78l1.4 1.4l-1.4 1.4l-1.4 -1.4z" fill="#4050b0"/>
<path d="M455.2 66.5V72.3M453.9 66.5h2.6M453.9 72.3h2.6" stroke="#4050b0" stroke-width="0.7" fill="none"/>
<path d="M455.2 67.9l1.4 1.4l-1.4 1.4l-1.4 -1.4z" fill="#4050b0"/>
<path d="M480.8 62.5V66M479.5 62.5h2.6M479.5 66h2.6" stroke="#4050b0" stroke-width="0.7" fill="none"/>
<path d="M480.8 63.3l1.4 1.4l-1.4 1.4l-1.4 -1.4z" fill="#4050b0"/>
<path d="M506.4 57V63.8M505.1 57h2.6M505.1 63.8h2.6" stroke="#4050b0" stroke-width="0.7" fill="none"/>
<path d="M506.4 58.6l1.4 1.4l-1.4 1.4l-1.4 -1.4z" fill="#4050b0"/>
<path d="M404 74.3V81.3M402.7 74.3h2.6M402.7 81.3h2.6" stroke="#e5261c" stroke-width="0.7" fill="none"/>
<circle cx="404" cy="78.1" r="1.33" fill="#e5261c"/>
<path d="M429.6 71.8V77.5M428.3 71.8h2.6M428.3 77.5h2.6" stroke="#e5261c" stroke-width="0.7" fill="none"/>
<circle cx="429.6" cy="74.3" r="1.33" fill="#e5261c"/>
<path d="M455.2 62V67.5M453.9 62h2.6M453.9 67.5h2.6" stroke="#e5261c" stroke-width="0.7" fill="none"/>
<circle cx="455.2" cy="64.7" r="1.33" fill="#e5261c"/>
<path d="M480.8 51.4V64M479.5 51.4h2.6M479.5 64h2.6" stroke="#e5261c" stroke-width="0.7" fill="none"/>
<circle cx="480.8" cy="61.7" r="1.33" fill="#e5261c"/>
<path d="M506.4 47.1V56M505.1 47.1h2.6M505.1 56h2.6" stroke="#e5261c" stroke-width="0.7" fill="none"/>
<circle cx="506.4" cy="51.7" r="1.33" fill="#e5261c"/>
<path d="M404 64.5V70M402.7 64.5h2.6M402.7 70h2.6" stroke="#9a30c0" stroke-width="0.7" fill="none"/>
<path d="M404 65.56l1.54 2.66h-3.08z" fill="#9a30c0"/>
<path d="M429.6 60.5V66M428.3 60.5h2.6M428.3 66h2.6" stroke="#9a30c0" stroke-width="0.7" fill="none"/>
<path d="M429.6 61.76l1.54 2.66h-3.08z" fill="#9a30c0"/>
<path d="M455.2 58.5V63.5M453.9 58.5h2.6M453.9 63.5h2.6" stroke="#9a30c0" stroke-width="0.7" fill="none"/>
<path d="M455.2 59.46l1.54 2.66h-3.08z" fill="#9a30c0"/>
<path d="M480.8 57V62M479.5 57h2.6M479.5 62h2.6" stroke="#9a30c0" stroke-width="0.7" fill="none"/>
<path d="M480.8 57.86l1.54 2.66h-3.08z" fill="#9a30c0"/>
<path d="M506.4 57V63M505.1 57h2.6M505.1 63h2.6" stroke="#9a30c0" stroke-width="0.7" fill="none"/>
<path d="M506.4 58.46l1.54 2.66h-3.08z" fill="#9a30c0"/>
<path d="M404 57.2V67M402.7 57.2h2.6M402.7 67h2.6" stroke="#111111" stroke-width="0.7" fill="none"/>
<circle cx="404" cy="62.9" r="1.33" fill="#111111"/>
<path d="M429.6 55.3V64.2M428.3 55.3h2.6M428.3 64.2h2.6" stroke="#111111" stroke-width="0.7" fill="none"/>
<circle cx="429.6" cy="60.4" r="1.33" fill="#111111"/>
<path d="M455.2 52.3V62M453.9 52.3h2.6M453.9 62h2.6" stroke="#111111" stroke-width="0.7" fill="none"/>
<circle cx="455.2" cy="57.9" r="1.33" fill="#111111"/>
<path d="M480.8 53V60.5M479.5 53h2.6M479.5 60.5h2.6" stroke="#111111" stroke-width="0.7" fill="none"/>
<circle cx="480.8" cy="57.2" r="1.33" fill="#111111"/>
<path d="M506.4 51V59M505.1 51h2.6M505.1 59h2.6" stroke="#111111" stroke-width="0.7" fill="none"/>
<circle cx="506.4" cy="56.2" r="1.33" fill="#111111"/>
<path d="M567.3 19.5H576.8" stroke="#4050b0" stroke-width="0.9"/>
<path d="M572.05 18.2l1.3 1.3l-1.3 1.3l-1.3 -1.3z" fill="#4050b0"/>
<g font-family="'Liberation Serif', serif" fill="#1a1a1a"><text transform="translate(578 21.1) scale(0.5 1)" font-size="7.6">&#958;</text><text x="580" y="17.8" font-size="4.6" font-weight="bold" textLength="4.8" lengthAdjust="spacingAndGlyphs">&#8211;1</text><text x="580" y="22" font-size="4.8" font-weight="bold" stroke="#1a1a1a" stroke-width="0.12" textLength="15.1" lengthAdjust="spacingAndGlyphs">AB|CD</text></g>
<path d="M604.6 19.5H613.3" stroke="#e5261c" stroke-width="0.9"/>
<circle cx="608.95" cy="19.5" r="1.23" fill="#e5261c"/>
<g font-family="'Liberation Serif', serif" fill="#1a1a1a"><text transform="translate(614.5 21.1) scale(0.5 1)" font-size="7.6">&#958;</text><text x="616.5" y="17.8" font-size="4.6" font-weight="bold" textLength="4.8" lengthAdjust="spacingAndGlyphs">&#8211;1</text><text x="616.5" y="22" font-size="4.8" font-weight="bold" stroke="#1a1a1a" stroke-width="0.12" textLength="15.1" lengthAdjust="spacingAndGlyphs">AC|BD</text></g>
<path d="M642 19.5H651.5" stroke="#111111" stroke-width="0.9"/>
<circle cx="646.75" cy="19.5" r="1.23" fill="#111111"/>
<g font-family="'Liberation Serif', serif" fill="#1a1a1a"><text transform="translate(652.7 21.1) scale(0.5 1)" font-size="7.6">&#958;</text><text x="654.7" y="17.8" font-size="4.6" font-weight="bold" textLength="4.8" lengthAdjust="spacingAndGlyphs">&#8211;1</text><text x="654.7" y="22" font-size="4.8" font-weight="bold" stroke="#1a1a1a" stroke-width="0.12" textLength="15.1" lengthAdjust="spacingAndGlyphs">AD|BC</text></g>
<path d="M570.98 32.49 L585.78 46.99 A4.6 4.6 0 0 0 592.22 40.41 L577.42 25.91 A4.6 4.6 0 0 0 570.98 32.49 Z" fill="none" stroke="#000" stroke-width="0.9" stroke-dasharray="1.8 0.5"/>
<path d="M585.78 25.91 L570.98 40.41 A4.6 4.6 0 0 0 577.42 46.99 L592.22 32.49 A4.6 4.6 0 0 0 585.78 25.91 Z" fill="none" stroke="#000" stroke-width="0.9" stroke-dasharray="1.8 0.5"/>
<circle cx="574.2" cy="29.2" r="3.2" fill="url(#pg)"/>
<text x="574.3" y="30.9" font-family="'Liberation Serif', serif" font-style="italic" font-weight="bold" font-size="4.8" text-anchor="middle" fill="#000">A</text>
<circle cx="589" cy="29.2" r="3.2" fill="url(#pg)"/>
<text x="589.1" y="30.9" font-family="'Liberation Serif', serif" font-style="italic" font-weight="bold" font-size="4.8" text-anchor="middle" fill="#000">C</text>
<circle cx="574.2" cy="43.7" r="3.2" fill="url(#pg)"/>
<text x="574.3" y="45.4" font-family="'Liberation Serif', serif" font-style="italic" font-weight="bold" font-size="4.8" text-anchor="middle" fill="#000">D</text>
<circle cx="589" cy="43.7" r="3.2" fill="url(#pg)"/>
<text x="589.1" y="45.4" font-family="'Liberation Serif', serif" font-style="italic" font-weight="bold" font-size="4.8" text-anchor="middle" fill="#000">B</text>
<rect x="605" y="25" width="25.5" height="8.8" rx="4.4" fill="none" stroke="#000" stroke-width="0.95" stroke-dasharray="1.3 0.9"/>
<rect x="605" y="40.4" width="25.5" height="8.8" rx="4.4" fill="none" stroke="#000" stroke-width="0.95" stroke-dasharray="1.3 0.9"/>
<circle cx="610.2" cy="29.4" r="3.2" fill="url(#pg)"/>
<text x="610.3" y="31.1" font-family="'Liberation Serif', serif" font-style="italic" font-weight="bold" font-size="4.8" text-anchor="middle" fill="#000">A</text>
<circle cx="625.3" cy="29.4" r="3.2" fill="url(#pg)"/>
<text x="625.4" y="31.1" font-family="'Liberation Serif', serif" font-style="italic" font-weight="bold" font-size="4.8" text-anchor="middle" fill="#000">C</text>
<circle cx="610.2" cy="44.8" r="3.2" fill="url(#pg)"/>
<text x="610.3" y="46.5" font-family="'Liberation Serif', serif" font-style="italic" font-weight="bold" font-size="4.8" text-anchor="middle" fill="#000">D</text>
<circle cx="625.3" cy="44.8" r="3.2" fill="url(#pg)"/>
<text x="625.4" y="46.5" font-family="'Liberation Serif', serif" font-style="italic" font-weight="bold" font-size="4.8" text-anchor="middle" fill="#000">B</text>
<rect x="643.6" y="24.2" width="8.8" height="25.8" rx="4.4" fill="none" stroke="#000" stroke-width="0.95" stroke-dasharray="1.3 0.9"/>
<rect x="658.7" y="24.2" width="8.8" height="25.8" rx="4.4" fill="none" stroke="#000" stroke-width="0.95" stroke-dasharray="1.3 0.9"/>
<circle cx="648" cy="29.4" r="3.2" fill="url(#pg)"/>
<text x="648.1" y="31.1" font-family="'Liberation Serif', serif" font-style="italic" font-weight="bold" font-size="4.8" text-anchor="middle" fill="#000">A</text>
<circle cx="663.1" cy="29.4" r="3.2" fill="url(#pg)"/>
<text x="663.2" y="31.1" font-family="'Liberation Serif', serif" font-style="italic" font-weight="bold" font-size="4.8" text-anchor="middle" fill="#000">C</text>
<circle cx="648" cy="44.8" r="3.2" fill="url(#pg)"/>
<text x="648.1" y="46.5" font-family="'Liberation Serif', serif" font-style="italic" font-weight="bold" font-size="4.8" text-anchor="middle" fill="#000">D</text>
<circle cx="663.1" cy="44.8" r="3.2" fill="url(#pg)"/>
<text x="663.2" y="46.5" font-family="'Liberation Serif', serif" font-style="italic" font-weight="bold" font-size="4.8" text-anchor="middle" fill="#000">B</text>
<polyline points="552.6,61.7 683.16,61.7" fill="none" stroke="#111111" stroke-width="0.85" stroke-linejoin="round"/>
<polyline points="552.6,78.9 620.44,75.3 655,73 680.6,70" fill="none" stroke="#4050b0" stroke-width="0.85" stroke-linejoin="round"/>
<path d="M578.2 53.5V67.3M576.9 53.5h2.6M576.9 67.3h2.6" stroke="#e5261c" stroke-width="0.7" fill="none"/>
<circle cx="578.2" cy="58" r="1.33" fill="#e5261c"/>
<path d="M603.8 54.5V67.3M602.5 54.5h2.6M602.5 67.3h2.6" stroke="#e5261c" stroke-width="0.7" fill="none"/>
<circle cx="603.8" cy="58.5" r="1.33" fill="#e5261c"/>
<path d="M629.4 52V69M628.1 52h2.6M628.1 69h2.6" stroke="#e5261c" stroke-width="0.7" fill="none"/>
<circle cx="629.4" cy="58" r="1.33" fill="#e5261c"/>
<path d="M655 52V66.6M653.7 52h2.6M653.7 66.6h2.6" stroke="#e5261c" stroke-width="0.7" fill="none"/>
<circle cx="655" cy="57" r="1.33" fill="#e5261c"/>
<path d="M680.6 46.5V58M679.3 46.5h2.6M679.3 58h2.6" stroke="#e5261c" stroke-width="0.7" fill="none"/>
<circle cx="680.6" cy="50" r="1.33" fill="#e5261c"/>
<path d="M578.2 58V66M576.9 58h2.6M576.9 66h2.6" stroke="#111111" stroke-width="0.7" fill="none"/>
<circle cx="578.2" cy="62" r="1.33" fill="#111111"/>
<path d="M603.8 58V65M602.5 58h2.6M602.5 65h2.6" stroke="#111111" stroke-width="0.7" fill="none"/>
<circle cx="603.8" cy="61.5" r="1.33" fill="#111111"/>
<path d="M629.4 58V66M628.1 58h2.6M628.1 66h2.6" stroke="#111111" stroke-width="0.7" fill="none"/>
<circle cx="629.4" cy="62" r="1.33" fill="#111111"/>
<path d="M655 55V62M653.7 55h2.6M653.7 62h2.6" stroke="#111111" stroke-width="0.7" fill="none"/>
<circle cx="655" cy="58.5" r="1.33" fill="#111111"/>
<path d="M680.6 48V55M679.3 48h2.6M679.3 55h2.6" stroke="#111111" stroke-width="0.7" fill="none"/>
<circle cx="680.6" cy="51.5" r="1.33" fill="#111111"/>
<path d="M578.2 76.4V85.7M576.9 76.4h2.6M576.9 85.7h2.6" stroke="#4050b0" stroke-width="0.7" fill="none"/>
<path d="M578.2 79.6l1.4 1.4l-1.4 1.4l-1.4 -1.4z" fill="#4050b0"/>
<path d="M603.8 72.1V81M602.5 72.1h2.6M602.5 81h2.6" stroke="#4050b0" stroke-width="0.7" fill="none"/>
<path d="M603.8 75.4l1.4 1.4l-1.4 1.4l-1.4 -1.4z" fill="#4050b0"/>
<path d="M629.4 70V80.4M628.1 70h2.6M628.1 80.4h2.6" stroke="#4050b0" stroke-width="0.7" fill="none"/>
<path d="M629.4 73.2l1.4 1.4l-1.4 1.4l-1.4 -1.4z" fill="#4050b0"/>
<path d="M655 64.2V74.6M653.7 64.2h2.6M653.7 74.6h2.6" stroke="#4050b0" stroke-width="0.7" fill="none"/>
<path d="M655 67.5l1.4 1.4l-1.4 1.4l-1.4 -1.4z" fill="#4050b0"/>
<path d="M680.6 60.3V70M679.3 60.3h2.6M679.3 70h2.6" stroke="#4050b0" stroke-width="0.7" fill="none"/>
<path d="M680.6 64l1.4 1.4l-1.4 1.4l-1.4 -1.4z" fill="#4050b0"/>
<path d="M54.1 158.4H63.6" stroke="#4050b0" stroke-width="0.9"/>
<path d="M58.85 157.1l1.3 1.3l-1.3 1.3l-1.3 -1.3z" fill="#4050b0"/>
<g font-family="'Liberation Serif', serif" fill="#111"><text x="64.8" y="159.9" font-size="7.8">&#955;</text><text x="70.1" y="162" font-size="5" font-weight="bold" stroke="#111" stroke-width="0.12" textLength="15" lengthAdjust="spacingAndGlyphs">ABCD</text></g>
<circle cx="61.2" cy="168.9" r="5" fill="none" stroke="#000" stroke-width="1.05" pathLength="28" stroke-dasharray="1.15 0.85" stroke-dashoffset="0.3"/>
<circle cx="75.4" cy="168.9" r="5" fill="none" stroke="#000" stroke-width="1.05" pathLength="28" stroke-dasharray="1.15 0.85" stroke-dashoffset="0.3"/>
<circle cx="61.2" cy="182.4" r="5" fill="none" stroke="#000" stroke-width="1.05" pathLength="28" stroke-dasharray="1.15 0.85" stroke-dashoffset="0.3"/>
<circle cx="75.4" cy="182.4" r="5" fill="none" stroke="#000" stroke-width="1.05" pathLength="28" stroke-dasharray="1.15 0.85" stroke-dashoffset="0.3"/>
<circle cx="61.2" cy="168.9" r="3.2" fill="url(#pg)"/>
<text x="61.3" y="170.6" font-family="'Liberation Serif', serif" font-style="italic" font-weight="bold" font-size="4.8" text-anchor="middle" fill="#000">A</text>
<circle cx="75.4" cy="168.9" r="3.2" fill="url(#pg)"/>
<text x="75.5" y="170.6" font-family="'Liberation Serif', serif" font-style="italic" font-weight="bold" font-size="4.8" text-anchor="middle" fill="#000">C</text>
<circle cx="61.2" cy="182.4" r="3.2" fill="url(#pg)"/>
<text x="61.3" y="184.1" font-family="'Liberation Serif', serif" font-style="italic" font-weight="bold" font-size="4.8" text-anchor="middle" fill="#000">D</text>
<circle cx="75.4" cy="182.4" r="3.2" fill="url(#pg)"/>
<text x="75.5" y="184.1" font-family="'Liberation Serif', serif" font-style="italic" font-weight="bold" font-size="4.8" text-anchor="middle" fill="#000">B</text>
<polyline points="30.2,195.6 68.6,195.5 94.2,195.2 132.6,194.4 145.4,193.9 158.2,193" fill="none" stroke="#4050b0" stroke-width="0.85" stroke-linejoin="round"/>
<path d="M55.8 194.3V202.3M54.5 194.3h2.6M54.5 202.3h2.6" stroke="#4050b0" stroke-width="0.7" fill="none"/>
<path d="M55.8 196.5l1.4 1.4l-1.4 1.4l-1.4 -1.4z" fill="#4050b0"/>
<path d="M81.4 193.3V201.2M80.1 193.3h2.6M80.1 201.2h2.6" stroke="#4050b0" stroke-width="0.7" fill="none"/>
<path d="M81.4 195.6l1.4 1.4l-1.4 1.4l-1.4 -1.4z" fill="#4050b0"/>
<path d="M107 195.5V202M105.7 195.5h2.6M105.7 202h2.6" stroke="#4050b0" stroke-width="0.7" fill="none"/>
<path d="M107 197.5l1.4 1.4l-1.4 1.4l-1.4 -1.4z" fill="#4050b0"/>
<path d="M132.6 190.2V198.5M131.3 190.2h2.6M131.3 198.5h2.6" stroke="#4050b0" stroke-width="0.7" fill="none"/>
<path d="M132.6 193l1.4 1.4l-1.4 1.4l-1.4 -1.4z" fill="#4050b0"/>
<path d="M158.2 184.1V191.4M156.9 184.1h2.6M156.9 191.4h2.6" stroke="#4050b0" stroke-width="0.7" fill="none"/>
<path d="M158.2 186.5l1.4 1.4l-1.4 1.4l-1.4 -1.4z" fill="#4050b0"/>
<path d="M209.1 159.3H218" stroke="#4050b0" stroke-width="0.9"/>
<path d="M213.55 158l1.3 1.3l-1.3 1.3l-1.3 -1.3z" fill="#4050b0"/>
<g font-family="'Liberation Serif', serif" fill="#111"><text transform="translate(218.7 160.9) scale(1.3 1)" font-size="9.2" stroke="#111" stroke-width="0.15">&#955;</text><text x="223.6" y="162.7" font-size="4.7" font-weight="bold" stroke="#111" stroke-width="0.12" textLength="14.1" lengthAdjust="spacingAndGlyphs">CD|AB</text></g>
<path d="M241.7 159.3H250.7" stroke="#e5261c" stroke-width="0.9"/>
<circle cx="246.2" cy="159.3" r="1.23" fill="#e5261c"/>
<g font-family="'Liberation Serif', serif" fill="#111"><text transform="translate(251.4 160.9) scale(1.3 1)" font-size="9.2" stroke="#111" stroke-width="0.15">&#955;</text><text x="256.3" y="162.7" font-size="4.7" font-weight="bold" stroke="#111" stroke-width="0.12" textLength="14" lengthAdjust="spacingAndGlyphs">AB|CD</text></g>
<path d="M273.3 159.3H283" stroke="#111111" stroke-width="0.9"/>
<circle cx="278.15" cy="159.3" r="1.23" fill="#111111"/>
<g font-family="'Liberation Serif', serif" fill="#111"><text transform="translate(283.7 160.9) scale(1.3 1)" font-size="9.2" stroke="#111" stroke-width="0.15">&#955;</text><text x="288.6" y="162.7" font-size="4.7" font-weight="bold" stroke="#111" stroke-width="0.12" textLength="14" lengthAdjust="spacingAndGlyphs">BD|AC</text></g>
<path d="M306.2 159.3H315.7" stroke="#9a30c0" stroke-width="0.9"/>
<path d="M310.95 157.87l1.43 2.47h-2.86z" fill="#9a30c0"/>
<g font-family="'Liberation Serif', serif" fill="#111"><text transform="translate(316.4 160.9) scale(1.3 1)" font-size="9.2" stroke="#111" stroke-width="0.15">&#955;</text><text x="321.3" y="162.7" font-size="4.7" font-weight="bold" stroke="#111" stroke-width="0.12" textLength="14" lengthAdjust="spacingAndGlyphs">AD|BC</text></g>
<path d="M213.17 172.47 L228.37 186.57 A4.6 4.6 0 0 0 234.63 179.83 L219.43 165.73 A4.6 4.6 0 0 0 213.17 172.47 Z" fill="none" stroke="#000" stroke-width="0.9" stroke-dasharray="1.8 0.5"/>
<circle cx="231.5" cy="169.1" r="4.6" fill="none" stroke="#000" stroke-width="1.05" pathLength="28" stroke-dasharray="1.15 0.85" stroke-dashoffset="0.3"/>
<circle cx="216.3" cy="183.2" r="4.6" fill="none" stroke="#000" stroke-width="1.05" pathLength="28" stroke-dasharray="1.15 0.85" stroke-dashoffset="0.3"/>
<circle cx="216.3" cy="169.1" r="3.2" fill="url(#pg)"/>
<text x="216.4" y="170.8" font-family="'Liberation Serif', serif" font-style="italic" font-weight="bold" font-size="4.8" text-anchor="middle" fill="#000">A</text>
<circle cx="231.5" cy="169.1" r="3.2" fill="url(#pg)"/>
<text x="231.6" y="170.8" font-family="'Liberation Serif', serif" font-style="italic" font-weight="bold" font-size="4.8" text-anchor="middle" fill="#000">C</text>
<circle cx="216.3" cy="183.2" r="3.2" fill="url(#pg)"/>
<text x="216.4" y="184.9" font-family="'Liberation Serif', serif" font-style="italic" font-weight="bold" font-size="4.8" text-anchor="middle" fill="#000">D</text>
<circle cx="231.5" cy="183.2" r="3.2" fill="url(#pg)"/>
<text x="231.6" y="184.9" font-family="'Liberation Serif', serif" font-style="italic" font-weight="bold" font-size="4.8" text-anchor="middle" fill="#000">B</text>
<path d="M259.15 165.85 L245.05 179.95 A4.6 4.6 0 0 0 251.55 186.45 L265.65 172.35 A4.6 4.6 0 0 0 259.15 165.85 Z" fill="none" stroke="#000" stroke-width="0.9" stroke-dasharray="1.8 0.5"/>
<circle cx="248.3" cy="169.1" r="4.6" fill="none" stroke="#000" stroke-width="1.05" pathLength="28" stroke-dasharray="1.15 0.85" stroke-dashoffset="0.3"/>
<circle cx="262.4" cy="183.2" r="4.6" fill="none" stroke="#000" stroke-width="1.05" pathLength="28" stroke-dasharray="1.15 0.85" stroke-dashoffset="0.3"/>
<circle cx="248.3" cy="169.1" r="3.2" fill="url(#pg)"/>
<text x="248.4" y="170.8" font-family="'Liberation Serif', serif" font-style="italic" font-weight="bold" font-size="4.8" text-anchor="middle" fill="#000">A</text>
<circle cx="262.4" cy="169.1" r="3.2" fill="url(#pg)"/>
<text x="262.5" y="170.8" font-family="'Liberation Serif', serif" font-style="italic" font-weight="bold" font-size="4.8" text-anchor="middle" fill="#000">C</text>
<circle cx="248.3" cy="183.2" r="3.2" fill="url(#pg)"/>
<text x="248.4" y="184.9" font-family="'Liberation Serif', serif" font-style="italic" font-weight="bold" font-size="4.8" text-anchor="middle" fill="#000">D</text>
<circle cx="262.4" cy="183.2" r="3.2" fill="url(#pg)"/>
<text x="262.5" y="184.9" font-family="'Liberation Serif', serif" font-style="italic" font-weight="bold" font-size="4.8" text-anchor="middle" fill="#000">B</text>
<rect x="275.4" y="164.2" width="24.6" height="8.8" rx="4.4" fill="none" stroke="#000" stroke-width="0.95" stroke-dasharray="1.3 0.9"/>
<circle cx="280.6" cy="183.8" r="5" fill="none" stroke="#000" stroke-width="1.05" pathLength="28" stroke-dasharray="1.15 0.85" stroke-dashoffset="0.3"/>
<circle cx="294.8" cy="183.8" r="5" fill="none" stroke="#000" stroke-width="1.05" pathLength="28" stroke-dasharray="1.15 0.85" stroke-dashoffset="0.3"/>
<circle cx="280.6" cy="168.6" r="3.2" fill="url(#pg)"/>
<text x="280.7" y="170.3" font-family="'Liberation Serif', serif" font-style="italic" font-weight="bold" font-size="4.8" text-anchor="middle" fill="#000">A</text>
<circle cx="294.8" cy="168.6" r="3.2" fill="url(#pg)"/>
<text x="294.9" y="170.3" font-family="'Liberation Serif', serif" font-style="italic" font-weight="bold" font-size="4.8" text-anchor="middle" fill="#000">C</text>
<circle cx="280.6" cy="183.8" r="3.2" fill="url(#pg)"/>
<text x="280.7" y="185.5" font-family="'Liberation Serif', serif" font-style="italic" font-weight="bold" font-size="4.8" text-anchor="middle" fill="#000">D</text>
<circle cx="294.8" cy="183.8" r="3.2" fill="url(#pg)"/>
<text x="294.9" y="185.5" font-family="'Liberation Serif', serif" font-style="italic" font-weight="bold" font-size="4.8" text-anchor="middle" fill="#000">B</text>
<rect x="323.5" y="163.4" width="8.8" height="25.6" rx="4.4" fill="none" stroke="#000" stroke-width="0.95" stroke-dasharray="1.3 0.9"/>
<circle cx="313.2" cy="168.6" r="5" fill="none" stroke="#000" stroke-width="1.05" pathLength="28" stroke-dasharray="1.15 0.85" stroke-dashoffset="0.3"/>
<circle cx="313.2" cy="183.8" r="5" fill="none" stroke="#000" stroke-width="1.05" pathLength="28" stroke-dasharray="1.15 0.85" stroke-dashoffset="0.3"/>
<circle cx="313.2" cy="168.6" r="3.2" fill="url(#pg)"/>
<text x="313.3" y="170.3" font-family="'Liberation Serif', serif" font-style="italic" font-weight="bold" font-size="4.8" text-anchor="middle" fill="#000">A</text>
<circle cx="327.9" cy="168.6" r="3.2" fill="url(#pg)"/>
<text x="328" y="170.3" font-family="'Liberation Serif', serif" font-style="italic" font-weight="bold" font-size="4.8" text-anchor="middle" fill="#000">C</text>
<circle cx="313.2" cy="183.8" r="3.2" fill="url(#pg)"/>
<text x="313.3" y="185.5" font-family="'Liberation Serif', serif" font-style="italic" font-weight="bold" font-size="4.8" text-anchor="middle" fill="#000">D</text>
<circle cx="327.9" cy="183.8" r="3.2" fill="url(#pg)"/>
<text x="328" y="185.5" font-family="'Liberation Serif', serif" font-style="italic" font-weight="bold" font-size="4.8" text-anchor="middle" fill="#000">B</text>
<polyline points="206.1,200.1 334.1,200" fill="none" stroke="#111111" stroke-width="0.85" stroke-linejoin="round"/>
<polyline points="206.1,200.2 334.1,193.3" fill="none" stroke="#4050b0" stroke-width="0.85" stroke-linejoin="round"/>
<polyline points="206.1,208.3 270.1,206.6 334.1,199.6" fill="none" stroke="#9a30c0" stroke-width="0.85" stroke-linejoin="round"/>
<polyline points="206.1,219.7 244.5,219.7 270.1,211.8 334.1,192.3" fill="none" stroke="#e5261c" stroke-width="0.85" stroke-linejoin="round"/>
<path d="M231.7 196.5V201.5M230.4 196.5h2.6M230.4 201.5h2.6" stroke="#4050b0" stroke-width="0.7" fill="none"/>
<path d="M231.7 197.6l1.4 1.4l-1.4 1.4l-1.4 -1.4z" fill="#4050b0"/>
<path d="M257.3 195V200.6M256 195h2.6M256 200.6h2.6" stroke="#4050b0" stroke-width="0.7" fill="none"/>
<path d="M257.3 196.5l1.4 1.4l-1.4 1.4l-1.4 -1.4z" fill="#4050b0"/>
<path d="M282.9 196.4V199.5M281.6 196.4h2.6M281.6 199.5h2.6" stroke="#4050b0" stroke-width="0.7" fill="none"/>
<path d="M282.9 196.1l1.4 1.4l-1.4 1.4l-1.4 -1.4z" fill="#4050b0"/>
<path d="M308.5 193V197M307.2 193h2.6M307.2 197h2.6" stroke="#4050b0" stroke-width="0.7" fill="none"/>
<path d="M308.5 193.6l1.4 1.4l-1.4 1.4l-1.4 -1.4z" fill="#4050b0"/>
<path d="M334.1 191V195.5M332.8 191h2.6M332.8 195.5h2.6" stroke="#4050b0" stroke-width="0.7" fill="none"/>
<path d="M334.1 191.9l1.4 1.4l-1.4 1.4l-1.4 -1.4z" fill="#4050b0"/>
<path d="M231.7 216.2V223.5M230.4 216.2h2.6M230.4 223.5h2.6" stroke="#e5261c" stroke-width="0.7" fill="none"/>
<circle cx="231.7" cy="219.3" r="1.33" fill="#e5261c"/>
<path d="M257.3 211V217M256 211h2.6M256 217h2.6" stroke="#e5261c" stroke-width="0.7" fill="none"/>
<circle cx="257.3" cy="214.1" r="1.33" fill="#e5261c"/>
<path d="M282.9 203V208.9M281.6 203h2.6M281.6 208.9h2.6" stroke="#e5261c" stroke-width="0.7" fill="none"/>
<circle cx="282.9" cy="206" r="1.33" fill="#e5261c"/>
<path d="M308.5 191.2V197.6M307.2 191.2h2.6M307.2 197.6h2.6" stroke="#e5261c" stroke-width="0.7" fill="none"/>
<circle cx="308.5" cy="194.4" r="1.33" fill="#e5261c"/>
<path d="M334.1 185V191M332.8 185h2.6M332.8 191h2.6" stroke="#e5261c" stroke-width="0.7" fill="none"/>
<circle cx="334.1" cy="188" r="1.33" fill="#e5261c"/>
<path d="M231.7 208V214M230.4 208h2.6M230.4 214h2.6" stroke="#9a30c0" stroke-width="0.7" fill="none"/>
<path d="M231.7 209.46l1.54 2.66h-3.08z" fill="#9a30c0"/>
<path d="M257.3 208V214M256 208h2.6M256 214h2.6" stroke="#9a30c0" stroke-width="0.7" fill="none"/>
<path d="M257.3 209.46l1.54 2.66h-3.08z" fill="#9a30c0"/>
<path d="M282.9 204V208.9M281.6 204h2.6M281.6 208.9h2.6" stroke="#9a30c0" stroke-width="0.7" fill="none"/>
<path d="M282.9 205.46l1.54 2.66h-3.08z" fill="#9a30c0"/>
<path d="M308.5 200.5V205.8M307.2 200.5h2.6M307.2 205.8h2.6" stroke="#9a30c0" stroke-width="0.7" fill="none"/>
<path d="M308.5 201.46l1.54 2.66h-3.08z" fill="#9a30c0"/>
<path d="M334.1 197V203M332.8 197h2.6M332.8 203h2.6" stroke="#9a30c0" stroke-width="0.7" fill="none"/>
<path d="M334.1 198.06l1.54 2.66h-3.08z" fill="#9a30c0"/>
<path d="M231.7 198.5V204.5M230.4 198.5h2.6M230.4 204.5h2.6" stroke="#111111" stroke-width="0.7" fill="none"/>
<circle cx="231.7" cy="201.6" r="1.33" fill="#111111"/>
<path d="M257.3 199V205M256 199h2.6M256 205h2.6" stroke="#111111" stroke-width="0.7" fill="none"/>
<circle cx="257.3" cy="202" r="1.33" fill="#111111"/>
<path d="M282.9 199.5V205.5M281.6 199.5h2.6M281.6 205.5h2.6" stroke="#111111" stroke-width="0.7" fill="none"/>
<circle cx="282.9" cy="202.7" r="1.33" fill="#111111"/>
<path d="M308.5 197V203M307.2 197h2.6M307.2 203h2.6" stroke="#111111" stroke-width="0.7" fill="none"/>
<circle cx="308.5" cy="200" r="1.33" fill="#111111"/>
<path d="M334.1 196.5V201.5M332.8 196.5h2.6M332.8 201.5h2.6" stroke="#111111" stroke-width="0.7" fill="none"/>
<circle cx="334.1" cy="199" r="1.33" fill="#111111"/>
<path d="M382.1 159.3H391" stroke="#4050b0" stroke-width="0.9"/>
<path d="M386.55 158l1.3 1.3l-1.3 1.3l-1.3 -1.3z" fill="#4050b0"/>
<g font-family="'Liberation Serif', serif" fill="#111"><text transform="translate(391.7 160.9) scale(1.3 1)" font-size="9.2" stroke="#111" stroke-width="0.15">&#955;</text><text x="396.6" y="162.7" font-size="4.7" font-weight="bold" stroke="#111" stroke-width="0.12" textLength="13.2" lengthAdjust="spacingAndGlyphs">A|BCD</text></g>
<path d="M414.6 159.3H423.6" stroke="#e5261c" stroke-width="0.9"/>
<circle cx="419.1" cy="159.3" r="1.23" fill="#e5261c"/>
<g font-family="'Liberation Serif', serif" fill="#111"><text transform="translate(424.3 160.9) scale(1.3 1)" font-size="9.2" stroke="#111" stroke-width="0.15">&#955;</text><text x="429.2" y="162.7" font-size="4.7" font-weight="bold" stroke="#111" stroke-width="0.12" textLength="13.1" lengthAdjust="spacingAndGlyphs">B|ACD</text></g>
<path d="M446.9 159.3H456.4" stroke="#111111" stroke-width="0.9"/>
<circle cx="451.65" cy="159.3" r="1.23" fill="#111111"/>
<g font-family="'Liberation Serif', serif" fill="#111"><text transform="translate(457.1 160.9) scale(1.3 1)" font-size="9.2" stroke="#111" stroke-width="0.15">&#955;</text><text x="462" y="162.7" font-size="4.7" font-weight="bold" stroke="#111" stroke-width="0.12" textLength="13.4" lengthAdjust="spacingAndGlyphs">C|ABD</text></g>
<path d="M479.5 159.3H488.5" stroke="#9a30c0" stroke-width="0.9"/>
<path d="M484 157.87l1.43 2.47h-2.86z" fill="#9a30c0"/>
<g font-family="'Liberation Serif', serif" fill="#111"><text transform="translate(489.2 160.9) scale(1.3 1)" font-size="9.2" stroke="#111" stroke-width="0.15">&#955;</text><text x="494.1" y="162.7" font-size="4.7" font-weight="bold" stroke="#111" stroke-width="0.12" textLength="13.2" lengthAdjust="spacingAndGlyphs">D|ABC</text></g>
<path d="M399.8 164.9L405 164.9Q407 164.9 407 166.9L407 186.6Q407 188.6 405 188.6L385.9 188.6Q383.9 188.6 383.9 186.6L383.9 181.4Q383.9 179.4 385.9 179.4L395.8 179.4Q397.8 179.4 397.8 177.4L397.8 166.9Q397.8 164.9 399.8 164.9" fill="none" stroke="#000" stroke-width="1.0" stroke-dasharray="1.3 0.85"/>
<circle cx="388.5" cy="169.1" r="5" fill="none" stroke="#000" stroke-width="1.05" pathLength="28" stroke-dasharray="1.15 0.85" stroke-dashoffset="0.3"/>
<circle cx="388.5" cy="169.1" r="3.2" fill="url(#pg)"/>
<text x="388.6" y="170.8" font-family="'Liberation Serif', serif" font-style="italic" font-weight="bold" font-size="4.8" text-anchor="middle" fill="#000">A</text>
<circle cx="402.4" cy="169.1" r="3.2" fill="url(#pg)"/>
<text x="402.5" y="170.8" font-family="'Liberation Serif', serif" font-style="italic" font-weight="bold" font-size="4.8" text-anchor="middle" fill="#000">C</text>
<circle cx="388.5" cy="183.6" r="3.2" fill="url(#pg)"/>
<text x="388.6" y="185.3" font-family="'Liberation Serif', serif" font-style="italic" font-weight="bold" font-size="4.8" text-anchor="middle" fill="#000">D</text>
<circle cx="402.4" cy="183.6" r="3.2" fill="url(#pg)"/>
<text x="402.5" y="185.3" font-family="'Liberation Serif', serif" font-style="italic" font-weight="bold" font-size="4.8" text-anchor="middle" fill="#000">B</text>
<path d="M416.4 165.3L436 165.3Q438 165.3 438 167.3L438 172.5Q438 174.5 436 174.5L425.6 174.5Q423.6 174.5 423.6 176.5L423.6 187Q423.6 189 421.6 189L416.4 189Q414.4 189 414.4 187L414.4 167.3Q414.4 165.3 416.4 165.3" fill="none" stroke="#000" stroke-width="1.0" stroke-dasharray="1.3 0.85"/>
<circle cx="433.4" cy="184" r="5" fill="none" stroke="#000" stroke-width="1.05" pathLength="28" stroke-dasharray="1.15 0.85" stroke-dashoffset="0.3"/>
<circle cx="419" cy="169.5" r="3.2" fill="url(#pg)"/>
<text x="419.1" y="171.2" font-family="'Liberation Serif', serif" font-style="italic" font-weight="bold" font-size="4.8" text-anchor="middle" fill="#000">A</text>
<circle cx="433.4" cy="169.5" r="3.2" fill="url(#pg)"/>
<text x="433.5" y="171.2" font-family="'Liberation Serif', serif" font-style="italic" font-weight="bold" font-size="4.8" text-anchor="middle" fill="#000">C</text>
<circle cx="419" cy="184" r="3.2" fill="url(#pg)"/>
<text x="419.1" y="185.7" font-family="'Liberation Serif', serif" font-style="italic" font-weight="bold" font-size="4.8" text-anchor="middle" fill="#000">D</text>
<circle cx="433.4" cy="184" r="3.2" fill="url(#pg)"/>
<text x="433.5" y="185.7" font-family="'Liberation Serif', serif" font-style="italic" font-weight="bold" font-size="4.8" text-anchor="middle" fill="#000">B</text>
<path d="M448.9 165.4L454.1 165.4Q456.1 165.4 456.1 167.4L456.1 178.4Q456.1 180.4 458.1 180.4L468.7 180.4Q470.7 180.4 470.7 182.4L470.7 187.6Q470.7 189.6 468.7 189.6L448.9 189.6Q446.9 189.6 446.9 187.6L446.9 167.4Q446.9 165.4 448.9 165.4" fill="none" stroke="#000" stroke-width="1.0" stroke-dasharray="1.3 0.85"/>
<circle cx="466.1" cy="169.6" r="5" fill="none" stroke="#000" stroke-width="1.05" pathLength="28" stroke-dasharray="1.15 0.85" stroke-dashoffset="0.3"/>
<circle cx="451.5" cy="169.6" r="3.2" fill="url(#pg)"/>
<text x="451.6" y="171.3" font-family="'Liberation Serif', serif" font-style="italic" font-weight="bold" font-size="4.8" text-anchor="middle" fill="#000">A</text>
<circle cx="466.1" cy="169.6" r="3.2" fill="url(#pg)"/>
<text x="466.2" y="171.3" font-family="'Liberation Serif', serif" font-style="italic" font-weight="bold" font-size="4.8" text-anchor="middle" fill="#000">C</text>
<circle cx="451.5" cy="184.6" r="3.2" fill="url(#pg)"/>
<text x="451.6" y="186.3" font-family="'Liberation Serif', serif" font-style="italic" font-weight="bold" font-size="4.8" text-anchor="middle" fill="#000">D</text>
<circle cx="466.1" cy="184.6" r="3.2" fill="url(#pg)"/>
<text x="466.2" y="186.3" font-family="'Liberation Serif', serif" font-style="italic" font-weight="bold" font-size="4.8" text-anchor="middle" fill="#000">B</text>
<path d="M482.3 165.5L501.8 165.5Q503.8 165.5 503.8 167.5L503.8 187.7Q503.8 189.7 501.8 189.7L496.6 189.7Q494.6 189.7 494.6 187.7L494.6 176.7Q494.6 174.7 492.6 174.7L482.3 174.7Q480.3 174.7 480.3 172.7L480.3 167.5Q480.3 165.5 482.3 165.5" fill="none" stroke="#000" stroke-width="1.0" stroke-dasharray="1.3 0.85"/>
<circle cx="484.9" cy="184.7" r="5" fill="none" stroke="#000" stroke-width="1.05" pathLength="28" stroke-dasharray="1.15 0.85" stroke-dashoffset="0.3"/>
<circle cx="484.9" cy="169.7" r="3.2" fill="url(#pg)"/>
<text x="485" y="171.4" font-family="'Liberation Serif', serif" font-style="italic" font-weight="bold" font-size="4.8" text-anchor="middle" fill="#000">A</text>
<circle cx="499.2" cy="169.7" r="3.2" fill="url(#pg)"/>
<text x="499.3" y="171.4" font-family="'Liberation Serif', serif" font-style="italic" font-weight="bold" font-size="4.8" text-anchor="middle" fill="#000">C</text>
<circle cx="484.9" cy="184.7" r="3.2" fill="url(#pg)"/>
<text x="485" y="186.4" font-family="'Liberation Serif', serif" font-style="italic" font-weight="bold" font-size="4.8" text-anchor="middle" fill="#000">D</text>
<circle cx="499.2" cy="184.7" r="3.2" fill="url(#pg)"/>
<text x="499.3" y="186.4" font-family="'Liberation Serif', serif" font-style="italic" font-weight="bold" font-size="4.8" text-anchor="middle" fill="#000">B</text>
<polyline points="378.5,204.4 442.5,202.3 506.5,199.6" fill="none" stroke="#9a30c0" stroke-width="0.85" stroke-linejoin="round"/>
<polyline points="378.5,216.9 442.5,209.2 506.5,199.6" fill="none" stroke="#e5261c" stroke-width="0.85" stroke-linejoin="round"/>
<polyline points="378.5,238.9 442.5,218.2 506.5,199.6" fill="none" stroke="#4050b0" stroke-width="0.85" stroke-linejoin="round"/>
<path d="M404.1 221.5V229.8M402.8 221.5h2.6M402.8 229.8h2.6" stroke="#4050b0" stroke-width="0.7" fill="none"/>
<path d="M404.1 224.2l1.4 1.4l-1.4 1.4l-1.4 -1.4z" fill="#4050b0"/>
<path d="M429.7 218.3V223.5M428.4 218.3h2.6M428.4 223.5h2.6" stroke="#4050b0" stroke-width="0.7" fill="none"/>
<path d="M429.7 220.7l1.4 1.4l-1.4 1.4l-1.4 -1.4z" fill="#4050b0"/>
<path d="M455.3 207.5V212.1M454 207.5h2.6M454 212.1h2.6" stroke="#4050b0" stroke-width="0.7" fill="none"/>
<path d="M455.3 208.6l1.4 1.4l-1.4 1.4l-1.4 -1.4z" fill="#4050b0"/>
<path d="M480.9 201.5V206.9M479.6 201.5h2.6M479.6 206.9h2.6" stroke="#4050b0" stroke-width="0.7" fill="none"/>
<path d="M480.9 202.6l1.4 1.4l-1.4 1.4l-1.4 -1.4z" fill="#4050b0"/>
<path d="M506.5 198V203.8M505.2 198h2.6M505.2 203.8h2.6" stroke="#4050b0" stroke-width="0.7" fill="none"/>
<path d="M506.5 199.1l1.4 1.4l-1.4 1.4l-1.4 -1.4z" fill="#4050b0"/>
<path d="M404.1 211V218.3M402.8 211h2.6M402.8 218.3h2.6" stroke="#e5261c" stroke-width="0.7" fill="none"/>
<circle cx="404.1" cy="214.2" r="1.33" fill="#e5261c"/>
<path d="M429.7 209V215.5M428.4 209h2.6M428.4 215.5h2.6" stroke="#e5261c" stroke-width="0.7" fill="none"/>
<circle cx="429.7" cy="212" r="1.33" fill="#e5261c"/>
<path d="M455.3 205V211M454 205h2.6M454 211h2.6" stroke="#e5261c" stroke-width="0.7" fill="none"/>
<circle cx="455.3" cy="208" r="1.33" fill="#e5261c"/>
<path d="M480.9 198.5V204.5M479.6 198.5h2.6M479.6 204.5h2.6" stroke="#e5261c" stroke-width="0.7" fill="none"/>
<circle cx="480.9" cy="201.5" r="1.33" fill="#e5261c"/>
<path d="M506.5 190.2V200M505.2 190.2h2.6M505.2 200h2.6" stroke="#e5261c" stroke-width="0.7" fill="none"/>
<circle cx="506.5" cy="196" r="1.33" fill="#e5261c"/>
<path d="M404.1 202V207.5M402.8 202h2.6M402.8 207.5h2.6" stroke="#9a30c0" stroke-width="0.7" fill="none"/>
<path d="M404.1 203.26l1.54 2.66h-3.08z" fill="#9a30c0"/>
<path d="M429.7 200V205.5M428.4 200h2.6M428.4 205.5h2.6" stroke="#9a30c0" stroke-width="0.7" fill="none"/>
<path d="M429.7 201.16l1.54 2.66h-3.08z" fill="#9a30c0"/>
<path d="M455.3 202V207.5M454 202h2.6M454 207.5h2.6" stroke="#9a30c0" stroke-width="0.7" fill="none"/>
<path d="M455.3 203.26l1.54 2.66h-3.08z" fill="#9a30c0"/>
<path d="M480.9 198V203M479.6 198h2.6M479.6 203h2.6" stroke="#9a30c0" stroke-width="0.7" fill="none"/>
<path d="M480.9 198.96l1.54 2.66h-3.08z" fill="#9a30c0"/>
<path d="M506.5 195V200M505.2 195h2.6M505.2 200h2.6" stroke="#9a30c0" stroke-width="0.7" fill="none"/>
<path d="M506.5 195.96l1.54 2.66h-3.08z" fill="#9a30c0"/>
<path d="M404.1 198.5V205M402.8 198.5h2.6M402.8 205h2.6" stroke="#111111" stroke-width="0.7" fill="none"/>
<circle cx="404.1" cy="201.7" r="1.33" fill="#111111"/>
<path d="M429.7 197.5V203M428.4 197.5h2.6M428.4 203h2.6" stroke="#111111" stroke-width="0.7" fill="none"/>
<circle cx="429.7" cy="200" r="1.33" fill="#111111"/>
<path d="M455.3 195V204M454 195h2.6M454 204h2.6" stroke="#111111" stroke-width="0.7" fill="none"/>
<circle cx="455.3" cy="200.6" r="1.33" fill="#111111"/>
<path d="M480.9 195V203M479.6 195h2.6M479.6 203h2.6" stroke="#111111" stroke-width="0.7" fill="none"/>
<circle cx="480.9" cy="199.6" r="1.33" fill="#111111"/>
<path d="M506.5 191.5V197.5M505.2 191.5h2.6M505.2 197.5h2.6" stroke="#111111" stroke-width="0.7" fill="none"/>
<circle cx="506.5" cy="194.4" r="1.33" fill="#111111"/>
<path d="M569.2 157.3H578.6" stroke="#4050b0" stroke-width="0.9"/>
<path d="M573.9 156l1.3 1.3l-1.3 1.3l-1.3 -1.3z" fill="#4050b0"/>
<g font-family="'Liberation Serif', serif" fill="#111"><text transform="translate(579.3 158.9) scale(1.3 1)" font-size="9.2" stroke="#111" stroke-width="0.15">&#955;</text><text x="584.2" y="160.7" font-size="4.7" font-weight="bold" stroke="#111" stroke-width="0.12" textLength="14" lengthAdjust="spacingAndGlyphs">AB|CD</text></g>
<path d="M607.3 157.3H615.8" stroke="#e5261c" stroke-width="0.9"/>
<circle cx="611.55" cy="157.3" r="1.23" fill="#e5261c"/>
<g font-family="'Liberation Serif', serif" fill="#111"><text transform="translate(616.5 158.9) scale(1.3 1)" font-size="9.2" stroke="#111" stroke-width="0.15">&#955;</text><text x="621.4" y="160.7" font-size="4.7" font-weight="bold" stroke="#111" stroke-width="0.12" textLength="14.9" lengthAdjust="spacingAndGlyphs">AC|BD</text></g>
<path d="M644 157.3H653.3" stroke="#111111" stroke-width="0.9"/>
<circle cx="648.65" cy="157.3" r="1.23" fill="#111111"/>
<g font-family="'Liberation Serif', serif" fill="#111"><text transform="translate(654 158.9) scale(1.3 1)" font-size="9.2" stroke="#111" stroke-width="0.15">&#955;</text><text x="658.9" y="160.7" font-size="4.7" font-weight="bold" stroke="#111" stroke-width="0.12" textLength="14.1" lengthAdjust="spacingAndGlyphs">AD|BC</text></g>
<path d="M572.97 171.47 L588.37 186.67 A4.6 4.6 0 0 0 594.83 180.13 L579.43 164.93 A4.6 4.6 0 0 0 572.97 171.47 Z" fill="none" stroke="#000" stroke-width="0.9" stroke-dasharray="1.8 0.5"/>
<path d="M588.37 164.93 L572.97 180.13 A4.6 4.6 0 0 0 579.43 186.67 L594.83 171.47 A4.6 4.6 0 0 0 588.37 164.93 Z" fill="none" stroke="#000" stroke-width="0.9" stroke-dasharray="1.8 0.5"/>
<circle cx="576.2" cy="168.2" r="3.2" fill="url(#pg)"/>
<text x="576.3" y="169.9" font-family="'Liberation Serif', serif" font-style="italic" font-weight="bold" font-size="4.8" text-anchor="middle" fill="#000">A</text>
<circle cx="591.6" cy="168.2" r="3.2" fill="url(#pg)"/>
<text x="591.7" y="169.9" font-family="'Liberation Serif', serif" font-style="italic" font-weight="bold" font-size="4.8" text-anchor="middle" fill="#000">C</text>
<circle cx="576.2" cy="183.4" r="3.2" fill="url(#pg)"/>
<text x="576.3" y="185.1" font-family="'Liberation Serif', serif" font-style="italic" font-weight="bold" font-size="4.8" text-anchor="middle" fill="#000">D</text>
<circle cx="591.6" cy="183.4" r="3.2" fill="url(#pg)"/>
<text x="591.7" y="185.1" font-family="'Liberation Serif', serif" font-style="italic" font-weight="bold" font-size="4.8" text-anchor="middle" fill="#000">B</text>
<rect x="606.8" y="164" width="25.2" height="8.8" rx="4.4" fill="none" stroke="#000" stroke-width="0.95" stroke-dasharray="1.3 0.9"/>
<rect x="606.8" y="179.2" width="25.2" height="8.8" rx="4.4" fill="none" stroke="#000" stroke-width="0.95" stroke-dasharray="1.3 0.9"/>
<circle cx="612" cy="168.4" r="3.2" fill="url(#pg)"/>
<text x="612.1" y="170.1" font-family="'Liberation Serif', serif" font-style="italic" font-weight="bold" font-size="4.8" text-anchor="middle" fill="#000">A</text>
<circle cx="626.8" cy="168.4" r="3.2" fill="url(#pg)"/>
<text x="626.9" y="170.1" font-family="'Liberation Serif', serif" font-style="italic" font-weight="bold" font-size="4.8" text-anchor="middle" fill="#000">C</text>
<circle cx="612" cy="183.6" r="3.2" fill="url(#pg)"/>
<text x="612.1" y="185.3" font-family="'Liberation Serif', serif" font-style="italic" font-weight="bold" font-size="4.8" text-anchor="middle" fill="#000">D</text>
<circle cx="626.8" cy="183.6" r="3.2" fill="url(#pg)"/>
<text x="626.9" y="185.3" font-family="'Liberation Serif', serif" font-style="italic" font-weight="bold" font-size="4.8" text-anchor="middle" fill="#000">B</text>
<rect x="645.6" y="163.2" width="8.8" height="25.6" rx="4.4" fill="none" stroke="#000" stroke-width="0.95" stroke-dasharray="1.3 0.9"/>
<rect x="660.1" y="163.2" width="8.8" height="25.6" rx="4.4" fill="none" stroke="#000" stroke-width="0.95" stroke-dasharray="1.3 0.9"/>
<circle cx="650" cy="168.4" r="3.2" fill="url(#pg)"/>
<text x="650.1" y="170.1" font-family="'Liberation Serif', serif" font-style="italic" font-weight="bold" font-size="4.8" text-anchor="middle" fill="#000">A</text>
<circle cx="664.5" cy="168.4" r="3.2" fill="url(#pg)"/>
<text x="664.6" y="170.1" font-family="'Liberation Serif', serif" font-style="italic" font-weight="bold" font-size="4.8" text-anchor="middle" fill="#000">C</text>
<circle cx="650" cy="183.6" r="3.2" fill="url(#pg)"/>
<text x="650.1" y="185.3" font-family="'Liberation Serif', serif" font-style="italic" font-weight="bold" font-size="4.8" text-anchor="middle" fill="#000">D</text>
<circle cx="664.5" cy="183.6" r="3.2" fill="url(#pg)"/>
<text x="664.6" y="185.3" font-family="'Liberation Serif', serif" font-style="italic" font-weight="bold" font-size="4.8" text-anchor="middle" fill="#000">B</text>
<polyline points="552.5,197.4 683.06,196.3" fill="none" stroke="#111111" stroke-width="0.85" stroke-linejoin="round"/>
<polyline points="552.5,212.5 619.96,205.4 680.5,200.5" fill="none" stroke="#4050b0" stroke-width="0.85" stroke-linejoin="round"/>
<path d="M578.1 192.3V202.7M576.8 192.3h2.6M576.8 202.7h2.6" stroke="#e5261c" stroke-width="0.7" fill="none"/>
<circle cx="578.1" cy="195" r="1.33" fill="#e5261c"/>
<path d="M603.7 192.3V202.7M602.4 192.3h2.6M602.4 202.7h2.6" stroke="#e5261c" stroke-width="0.7" fill="none"/>
<circle cx="603.7" cy="195" r="1.33" fill="#e5261c"/>
<path d="M629.3 190.2V202.7M628 190.2h2.6M628 202.7h2.6" stroke="#e5261c" stroke-width="0.7" fill="none"/>
<circle cx="629.3" cy="194" r="1.33" fill="#e5261c"/>
<path d="M654.9 190.2V200.5M653.6 190.2h2.6M653.6 200.5h2.6" stroke="#e5261c" stroke-width="0.7" fill="none"/>
<circle cx="654.9" cy="193.5" r="1.33" fill="#e5261c"/>
<path d="M680.5 183.4V195M679.2 183.4h2.6M679.2 195h2.6" stroke="#e5261c" stroke-width="0.7" fill="none"/>
<circle cx="680.5" cy="187" r="1.33" fill="#e5261c"/>
<path d="M578.1 194.5V200M576.8 194.5h2.6M576.8 200h2.6" stroke="#111111" stroke-width="0.7" fill="none"/>
<circle cx="578.1" cy="197.1" r="1.33" fill="#111111"/>
<path d="M603.7 194.5V200M602.4 194.5h2.6M602.4 200h2.6" stroke="#111111" stroke-width="0.7" fill="none"/>
<circle cx="603.7" cy="197.1" r="1.33" fill="#111111"/>
<path d="M629.3 193.5V199.5M628 193.5h2.6M628 199.5h2.6" stroke="#111111" stroke-width="0.7" fill="none"/>
<circle cx="629.3" cy="196.4" r="1.33" fill="#111111"/>
<path d="M654.9 193V198.5M653.6 193h2.6M653.6 198.5h2.6" stroke="#111111" stroke-width="0.7" fill="none"/>
<circle cx="654.9" cy="195.5" r="1.33" fill="#111111"/>
<path d="M680.5 186.5V192.5M679.2 186.5h2.6M679.2 192.5h2.6" stroke="#111111" stroke-width="0.7" fill="none"/>
<circle cx="680.5" cy="189.1" r="1.33" fill="#111111"/>
<path d="M578.1 208.3V217.3M576.8 208.3h2.6M576.8 217.3h2.6" stroke="#4050b0" stroke-width="0.7" fill="none"/>
<path d="M578.1 210.6l1.4 1.4l-1.4 1.4l-1.4 -1.4z" fill="#4050b0"/>
<path d="M603.7 202.7V211M602.4 202.7h2.6M602.4 211h2.6" stroke="#4050b0" stroke-width="0.7" fill="none"/>
<path d="M603.7 205.4l1.4 1.4l-1.4 1.4l-1.4 -1.4z" fill="#4050b0"/>
<path d="M629.3 203.9V211.4M628 203.9h2.6M628 211.4h2.6" stroke="#4050b0" stroke-width="0.7" fill="none"/>
<path d="M629.3 207l1.4 1.4l-1.4 1.4l-1.4 -1.4z" fill="#4050b0"/>
<path d="M654.9 199.3V206.1M653.6 199.3h2.6M653.6 206.1h2.6" stroke="#4050b0" stroke-width="0.7" fill="none"/>
<path d="M654.9 201.3l1.4 1.4l-1.4 1.4l-1.4 -1.4z" fill="#4050b0"/>
<path d="M680.5 193V200.5M679.2 193h2.6M679.2 200.5h2.6" stroke="#4050b0" stroke-width="0.7" fill="none"/>
<path d="M680.5 195.6l1.4 1.4l-1.4 1.4l-1.4 -1.4z" fill="#4050b0"/>
</g>
</svg>
</body></html>
